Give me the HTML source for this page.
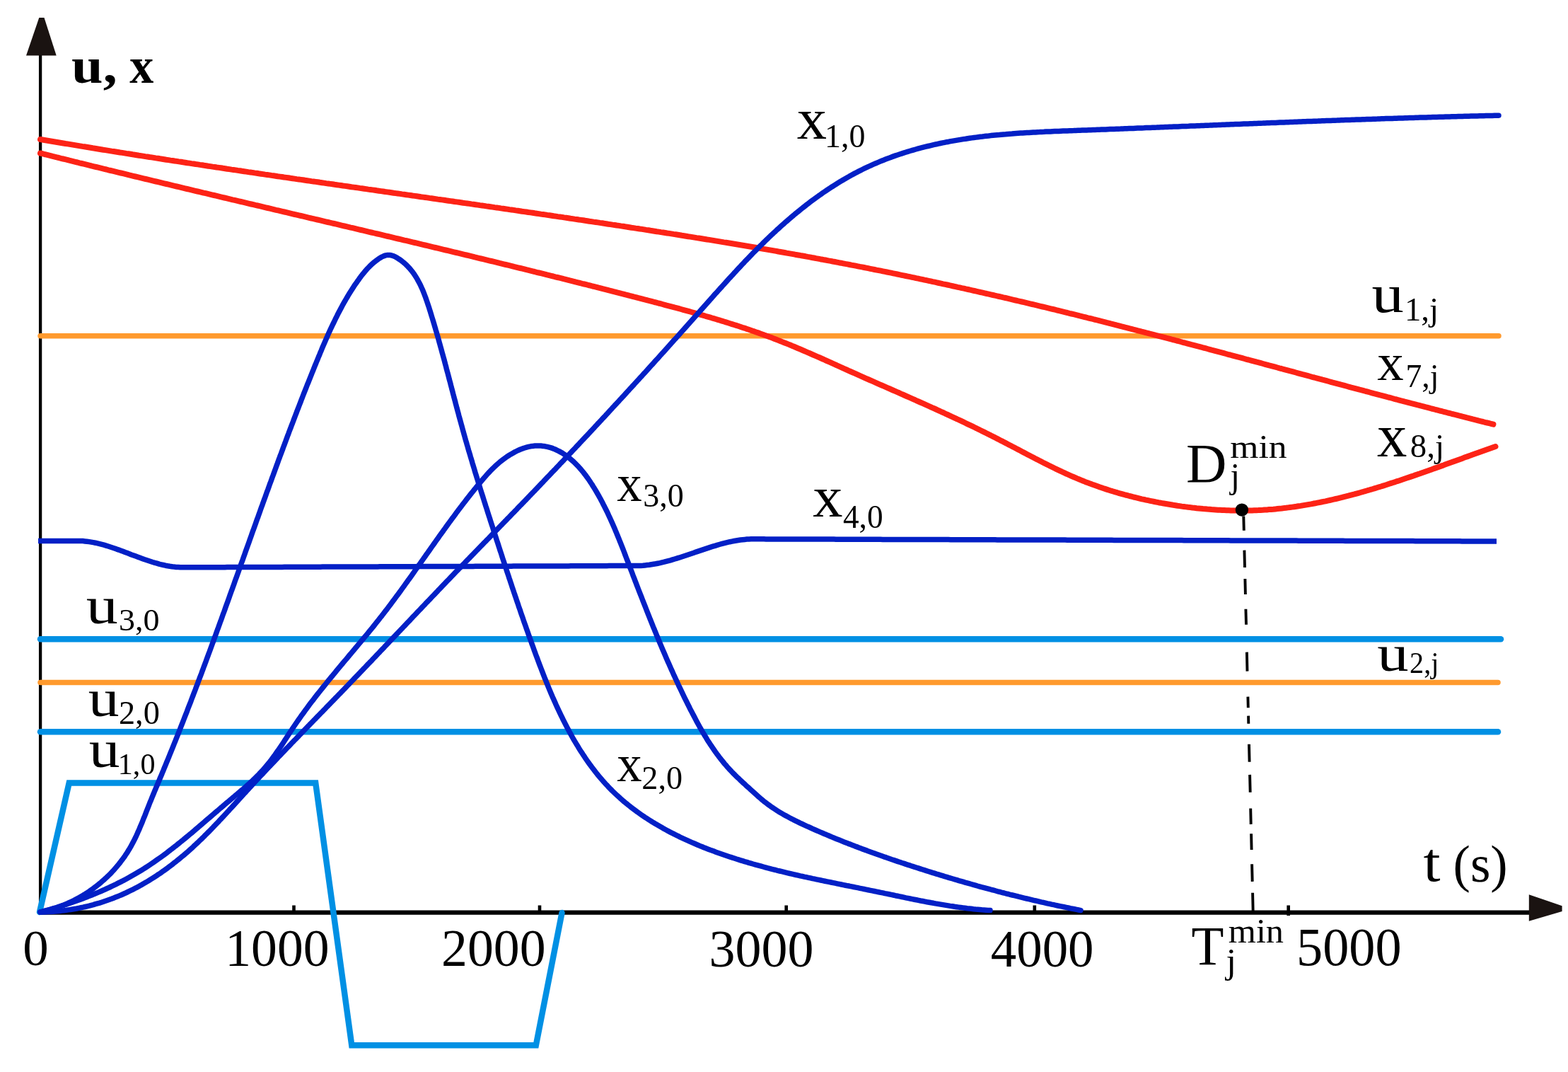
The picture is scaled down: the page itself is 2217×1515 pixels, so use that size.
<!DOCTYPE html>
<html><head><meta charset="utf-8"><title>u, x vs t</title>
<style>html,body{margin:0;padding:0;background:#fff;} body{width:2217px;height:1515px;overflow:hidden;} svg{display:block;}</style>
</head><body>
<svg xmlns="http://www.w3.org/2000/svg" width="2217" height="1515" viewBox="0 0 2217 1515" font-family="'Liberation Serif', serif" fill="#000">
<line x1="57.1" y1="70" x2="57.1" y2="1292" stroke="#000" stroke-width="4.3"/>
<polygon points="55.3,25 62.5,25 79.7,78.5 37,78.5" fill="#1a1311"/>
<line x1="54.9" y1="1289.6" x2="2170" y2="1289.6" stroke="#000" stroke-width="6.3"/>
<polygon points="2161.8,1264.2 2208.6,1280.2 2208.6,1288 2161.8,1301.8" fill="#1a1311"/>
<line x1="415.5" y1="1279.5" x2="415.5" y2="1290" stroke="#000" stroke-width="4.6"/>
<line x1="763" y1="1279.5" x2="763" y2="1290" stroke="#000" stroke-width="4.6"/>
<line x1="1111.7" y1="1279.5" x2="1111.7" y2="1290" stroke="#000" stroke-width="4.6"/>
<line x1="1462.8" y1="1279.5" x2="1462.8" y2="1290" stroke="#000" stroke-width="4.6"/>
<line x1="1821.7" y1="1279.5" x2="1821.7" y2="1294" stroke="#000" stroke-width="4.6"/>
<path d="M57,474.8 L2119,474.8" fill="none" stroke="#ff9a2e" stroke-width="7.5" stroke-linecap="round" stroke-linejoin="round" />
<path d="M57,964.4 L2118,964.4" fill="none" stroke="#ff9a2e" stroke-width="7.5" stroke-linecap="round" stroke-linejoin="round" />
<path d="M57,903.3 L2122,903.3" fill="none" stroke="#0090e4" stroke-width="8.5" stroke-linecap="round" stroke-linejoin="round" />
<path d="M57,1034.2 L2118,1034.2" fill="none" stroke="#0090e4" stroke-width="8.5" stroke-linecap="round" stroke-linejoin="round" />
<path d="M56,1289 L97.7,1106.5 L446.2,1106.5 L497.3,1477.3 L757.8,1477.3 L794.5,1290" fill="none" stroke="#0090e4" stroke-width="8.5" stroke-linejoin="miter" stroke-linecap="round"/>
<path d="M57.0,197.0L60.0,197.5 62.9,198.0 65.9,198.5 68.9,199.0 71.8,199.5 74.8,200.0 77.8,200.5 80.7,201.0 83.7,201.5 86.6,202.0 89.6,202.5 92.6,203.0 95.5,203.4 98.5,203.9 101.5,204.4 104.4,204.9 107.4,205.4 110.4,205.9 113.3,206.4 116.3,206.9 119.3,207.3 122.2,207.8 125.2,208.3 128.2,208.8 131.1,209.3 134.1,209.7 137.1,210.2 140.0,210.7 143.0,211.2 146.0,211.7 148.9,212.1 151.9,212.6 154.9,213.1 157.9,213.6 160.8,214.0 163.8,214.5 166.8,215.0 169.7,215.5 172.7,215.9 175.7,216.4 178.6,216.9 181.6,217.3 184.6,217.8 187.5,218.3 190.5,218.7 193.5,219.2 196.5,219.7 199.4,220.1 202.4,220.6 205.4,221.1 208.3,221.5 211.3,222.0 214.3,222.4 217.3,222.9 220.2,223.4 223.2,223.8 226.2,224.3 229.1,224.7 232.1,225.2 235.1,225.7 238.1,226.1 241.0,226.6 244.0,227.0 247.0,227.5 249.9,227.9 252.9,228.4 255.9,228.8 258.9,229.3 261.8,229.7 264.8,230.2 267.8,230.6 270.8,231.1 273.7,231.5 276.7,232.0 279.7,232.4 282.6,232.9 285.6,233.3 288.6,233.8 291.6,234.2 294.5,234.7 297.5,235.1 300.5,235.6 303.5,236.0 306.4,236.5 309.4,236.9 312.4,237.3 315.4,237.8 318.3,238.2 321.3,238.7 324.3,239.1 327.3,239.6 330.2,240.0 333.2,240.4 336.2,240.9 339.2,241.3 342.1,241.8 345.1,242.2 348.1,242.6 351.1,243.1 354.0,243.5 357.0,243.9 360.0,244.4 363.0,244.8 365.9,245.3 368.9,245.7 371.9,246.1 374.9,246.6 377.8,247.0 380.8,247.4 383.8,247.9 386.8,248.3 389.7,248.7 392.7,249.2 395.7,249.6 398.7,250.0 401.6,250.5 404.6,250.9 407.6,251.3 410.6,251.8 413.6,252.2 416.5,252.6 419.5,253.1 422.5,253.5 425.5,253.9 428.4,254.3 431.4,254.8 434.4,255.2 437.4,255.6 440.3,256.1 443.3,256.5 446.3,256.9 449.3,257.3 452.3,257.8 455.2,258.2 458.2,258.6 461.2,259.1 464.2,259.5 467.1,259.9 470.1,260.3 473.1,260.8 476.1,261.2 479.0,261.6 482.0,262.0 485.0,262.5 488.0,262.9 491.0,263.3 493.9,263.7 496.9,264.2 499.9,264.6 502.9,265.0 505.8,265.4 508.8,265.9 511.8,266.3 514.8,266.7 517.8,267.1 520.7,267.6 523.7,268.0 526.7,268.4 529.7,268.8 532.7,269.3 535.6,269.7 538.6,270.1 541.6,270.5 544.6,271.0 547.5,271.4 550.5,271.8 553.5,272.2 556.5,272.7 559.5,273.1 562.4,273.5 565.4,273.9 568.4,274.4 571.4,274.8 574.3,275.2 577.3,275.6 580.3,276.0 583.3,276.5 586.3,276.9 589.2,277.3 592.2,277.7 595.2,278.2 598.2,278.6 601.1,279.0 604.1,279.4 607.1,279.9 610.1,280.3 613.1,280.7 616.0,281.1 619.0,281.6 622.0,282.0 625.0,282.4 627.9,282.8 630.9,283.3 633.9,283.7 636.9,284.1 639.9,284.5 642.8,285.0 645.8,285.4 648.8,285.8 651.8,286.2 654.8,286.7 657.7,287.1 660.7,287.5 663.7,287.9 666.7,288.4 669.6,288.8 672.6,289.2 675.6,289.6 678.6,290.1 681.6,290.5 684.5,290.9 687.5,291.4 690.5,291.8 693.5,292.2 696.4,292.6 699.4,293.1 702.4,293.5 705.4,293.9 708.3,294.4 711.3,294.8 714.3,295.2 717.3,295.6 720.3,296.1 723.2,296.5 726.2,296.9 729.2,297.4 732.2,297.8 735.1,298.2 738.1,298.7 741.1,299.1 744.1,299.5 747.0,300.0 750.0,300.4 753.0,300.8 756.0,301.3 759.0,301.7 761.9,302.1 764.9,302.6 767.9,303.0 770.9,303.4 773.8,303.9 776.8,304.3 779.8,304.7 782.8,305.2 785.7,305.6 788.7,306.1 791.7,306.5 794.7,306.9 797.6,307.4 800.6,307.8 803.6,308.2 806.6,308.7 809.5,309.1 812.5,309.6 815.5,310.0 818.5,310.5 821.4,310.9 824.4,311.3 827.4,311.8 830.4,312.2 833.3,312.7 836.3,313.1 839.3,313.6 842.3,314.0 845.2,314.4 848.2,314.9 851.2,315.3 854.2,315.8 857.1,316.2 860.1,316.7 863.1,317.1 866.1,317.6 869.0,318.0 872.0,318.5 875.0,318.9 878.0,319.4 880.9,319.8 883.9,320.3 886.9,320.7 889.8,321.2 892.8,321.7 895.8,322.1 898.8,322.6 901.7,323.0 904.7,323.5 907.7,323.9 910.7,324.4 913.6,324.9 916.6,325.3 919.6,325.8 922.5,326.2 925.5,326.7 928.5,327.2 931.5,327.6 934.4,328.1 937.4,328.5 940.4,329.0 943.3,329.5 946.3,329.9 949.3,330.4 952.3,330.9 955.2,331.3 958.2,331.8 961.2,332.3 964.1,332.8 967.1,333.2 970.1,333.7 973.0,334.2 976.0,334.6 979.0,335.1 982.0,335.6 984.9,336.1 987.9,336.5 990.9,337.0 993.8,337.5 996.8,338.0 999.8,338.5 1002.7,338.9 1005.7,339.4 1008.7,339.9 1011.6,340.4 1014.6,340.9 1017.6,341.4 1020.5,341.9 1023.5,342.4 1026.5,342.8 1029.4,343.3 1032.4,343.8 1035.4,344.3 1038.3,344.8 1041.3,345.3 1044.3,345.8 1047.2,346.3 1050.2,346.8 1053.2,347.3 1056.1,347.8 1059.1,348.3 1062.1,348.8 1065.0,349.3 1068.0,349.8 1070.9,350.3 1073.9,350.8 1076.9,351.3 1079.8,351.9 1082.8,352.4 1085.8,352.9 1088.7,353.4 1091.7,353.9 1094.6,354.4 1097.6,354.9 1100.6,355.5 1103.5,356.0 1106.5,356.5 1109.4,357.0 1112.4,357.6 1115.4,358.1 1118.3,358.6 1121.3,359.1 1124.2,359.7 1127.2,360.2 1130.2,360.7 1133.1,361.3 1136.1,361.8 1139.0,362.3 1142.0,362.9 1144.9,363.4 1147.9,364.0 1150.9,364.5 1153.8,365.1 1156.8,365.6 1159.7,366.2 1162.7,366.7 1165.6,367.3 1168.6,367.8 1171.5,368.4 1174.5,368.9 1177.4,369.5 1180.4,370.0 1183.3,370.6 1186.3,371.2 1189.3,371.7 1192.2,372.3 1195.2,372.9 1198.1,373.4 1201.1,374.0 1204.0,374.6 1207.0,375.1 1209.9,375.7 1212.9,376.3 1215.8,376.9 1218.8,377.4 1221.7,378.0 1224.7,378.6 1227.6,379.2 1230.5,379.8 1233.5,380.4 1236.4,381.0 1239.4,381.6 1242.3,382.1 1245.3,382.7 1248.2,383.3 1251.2,383.9 1254.1,384.5 1257.1,385.1 1260.0,385.7 1262.9,386.3 1265.9,386.9 1268.8,387.5 1271.8,388.2 1274.7,388.8 1277.7,389.4 1280.6,390.0 1283.5,390.6 1286.5,391.2 1289.4,391.8 1292.4,392.4 1295.3,393.1 1298.3,393.7 1301.2,394.3 1304.1,394.9 1307.1,395.6 1310.0,396.2 1313.0,396.8 1315.9,397.4 1318.8,398.1 1321.8,398.7 1324.7,399.3 1327.6,400.0 1330.6,400.6 1333.5,401.3 1336.5,401.9 1339.4,402.5 1342.3,403.2 1345.3,403.8 1348.2,404.5 1351.1,405.1 1354.1,405.8 1357.0,406.4 1359.9,407.1 1362.9,407.7 1365.8,408.4 1368.7,409.0 1371.7,409.7 1374.6,410.3 1377.5,411.0 1380.5,411.7 1383.4,412.3 1386.3,413.0 1389.3,413.6 1392.2,414.3 1395.1,415.0 1398.1,415.6 1401.0,416.3 1403.9,417.0 1406.8,417.7 1409.8,418.3 1412.7,419.0 1415.6,419.7 1418.6,420.4 1421.5,421.0 1424.4,421.7 1427.3,422.4 1430.3,423.1 1433.2,423.8 1436.1,424.5 1439.0,425.2 1442.0,425.8 1444.9,426.5 1447.8,427.2 1450.7,427.9 1453.7,428.6 1456.6,429.3 1459.5,430.0 1462.4,430.7 1465.4,431.4 1468.3,432.1 1471.2,432.8 1474.1,433.5 1477.1,434.2 1480.0,434.9 1482.9,435.6 1485.8,436.3 1488.8,437.0 1491.7,437.7 1494.6,438.5 1497.5,439.2 1500.4,439.9 1503.4,440.6 1506.3,441.3 1509.2,442.0 1512.1,442.8 1515.0,443.5 1518.0,444.2 1520.9,444.9 1523.8,445.6 1526.7,446.4 1529.6,447.1 1532.5,447.8 1535.5,448.5 1538.4,449.3 1541.3,450.0 1544.2,450.7 1547.1,451.5 1550.0,452.2 1553.0,452.9 1555.9,453.7 1558.8,454.4 1561.7,455.1 1564.6,455.9 1567.5,456.6 1570.5,457.4 1573.4,458.1 1576.3,458.8 1579.2,459.6 1582.1,460.3 1585.0,461.1 1587.9,461.8 1590.9,462.6 1593.8,463.3 1596.7,464.1 1599.6,464.8 1602.5,465.6 1605.4,466.3 1608.3,467.1 1611.2,467.8 1614.2,468.6 1617.1,469.3 1620.0,470.1 1622.9,470.8 1625.8,471.6 1628.7,472.3 1631.6,473.1 1634.5,473.9 1637.4,474.6 1640.4,475.4 1643.3,476.1 1646.2,476.9 1649.1,477.7 1652.0,478.4 1654.9,479.2 1657.8,480.0 1660.7,480.7 1663.6,481.5 1666.5,482.2 1669.5,483.0 1672.4,483.8 1675.3,484.5 1678.2,485.3 1681.1,486.1 1684.0,486.9 1686.9,487.6 1689.8,488.4 1692.7,489.2 1695.6,489.9 1698.5,490.7 1701.4,491.5 1704.3,492.2 1707.3,493.0 1710.2,493.8 1713.1,494.6 1716.0,495.3 1718.9,496.1 1721.8,496.9 1724.7,497.7 1727.6,498.4 1730.5,499.2 1733.4,500.0 1736.3,500.8 1739.2,501.5 1742.1,502.3 1745.0,503.1 1747.9,503.9 1750.9,504.7 1753.8,505.4 1756.7,506.2 1759.6,507.0 1762.5,507.8 1765.4,508.5 1768.3,509.3 1771.2,510.1 1774.1,510.9 1777.0,511.7 1779.9,512.4 1782.8,513.2 1785.7,514.0 1788.6,514.8 1791.5,515.6 1794.4,516.4 1797.3,517.1 1800.2,517.9 1803.2,518.7 1806.1,519.5 1809.0,520.3 1811.9,521.0 1814.8,521.8 1817.7,522.6 1820.6,523.4 1823.5,524.2 1826.4,524.9 1829.3,525.7 1832.2,526.5 1835.1,527.3 1838.0,528.1 1840.9,528.9 1843.8,529.6 1846.7,530.4 1849.6,531.2 1852.5,532.0 1855.4,532.8 1858.3,533.5 1861.3,534.3 1864.2,535.1 1867.1,535.9 1870.0,536.7 1872.9,537.4 1875.8,538.2 1878.7,539.0 1881.6,539.8 1884.5,540.6 1887.4,541.3 1890.3,542.1 1893.2,542.9 1896.1,543.7 1899.0,544.4 1901.9,545.2 1904.8,546.0 1907.7,546.8 1910.6,547.6 1913.5,548.3 1916.5,549.1 1919.4,549.9 1922.3,550.7 1925.2,551.4 1928.1,552.2 1931.0,553.0 1933.9,553.7 1936.8,554.5 1939.7,555.3 1942.6,556.1 1945.5,556.8 1948.4,557.6 1951.3,558.4 1954.2,559.1 1957.1,559.9 1960.0,560.7 1963.0,561.5 1965.9,562.2 1968.8,563.0 1971.7,563.8 1974.6,564.5 1977.5,565.3 1980.4,566.1 1983.3,566.8 1986.2,567.6 1989.1,568.3 1992.0,569.1 1994.9,569.9 1997.8,570.6 2000.8,571.4 2003.7,572.2 2006.6,572.9 2009.5,573.7 2012.4,574.4 2015.3,575.2 2018.2,575.9 2021.1,576.7 2024.0,577.5 2026.9,578.2 2029.9,579.0 2032.8,579.7 2035.7,580.5 2038.6,581.2 2041.5,582.0 2044.4,582.7 2047.3,583.5 2050.2,584.2 2053.1,585.0 2056.0,585.7 2059.0,586.4 2061.9,587.2 2064.8,587.9 2067.7,588.7 2070.6,589.4 2073.5,590.2 2076.4,590.9 2079.3,591.6 2082.3,592.4 2085.2,593.1 2088.1,593.8 2091.0,594.6 2093.9,595.3 2096.8,596.0 2099.7,596.8 2102.7,597.5 2105.6,598.2 2108.5,599.0 2111.4,599.7" fill="none" stroke="#fd2316" stroke-width="8" stroke-linecap="round" stroke-linejoin="round" />
<path d="M57.0,216.5L59.9,217.2 62.8,218.0 65.8,218.7 68.7,219.4 71.6,220.1 74.5,220.9 77.4,221.6 80.4,222.3 83.3,223.0 86.2,223.8 89.1,224.5 92.0,225.2 95.0,225.9 97.9,226.7 100.8,227.4 103.7,228.1 106.6,228.8 109.6,229.5 112.5,230.3 115.4,231.0 118.3,231.7 121.2,232.4 124.2,233.1 127.1,233.8 130.0,234.6 132.9,235.3 135.9,236.0 138.8,236.7 141.7,237.4 144.6,238.1 147.5,238.8 150.5,239.5 153.4,240.3 156.3,241.0 159.2,241.7 162.2,242.4 165.1,243.1 168.0,243.8 170.9,244.5 173.9,245.2 176.8,245.9 179.7,246.6 182.6,247.4 185.6,248.1 188.5,248.8 191.4,249.5 194.3,250.2 197.2,250.9 200.2,251.6 203.1,252.3 206.0,253.0 208.9,253.7 211.9,254.4 214.8,255.1 217.7,255.8 220.6,256.5 223.6,257.2 226.5,257.9 229.4,258.6 232.3,259.3 235.3,260.0 238.2,260.7 241.1,261.4 244.0,262.1 247.0,262.8 249.9,263.5 252.8,264.2 255.7,264.9 258.7,265.6 261.6,266.3 264.5,267.0 267.4,267.7 270.4,268.4 273.3,269.1 276.2,269.8 279.2,270.5 282.1,271.2 285.0,271.9 287.9,272.6 290.9,273.2 293.8,273.9 296.7,274.6 299.6,275.3 302.6,276.0 305.5,276.7 308.4,277.4 311.3,278.1 314.3,278.8 317.2,279.5 320.1,280.2 323.0,280.9 326.0,281.6 328.9,282.3 331.8,282.9 334.8,283.6 337.7,284.3 340.6,285.0 343.5,285.7 346.5,286.4 349.4,287.1 352.3,287.8 355.2,288.5 358.2,289.2 361.1,289.9 364.0,290.5 367.0,291.2 369.9,291.9 372.8,292.6 375.7,293.3 378.7,294.0 381.6,294.7 384.5,295.4 387.4,296.1 390.4,296.8 393.3,297.4 396.2,298.1 399.2,298.8 402.1,299.5 405.0,300.2 407.9,300.9 410.9,301.6 413.8,302.3 416.7,303.0 419.6,303.6 422.6,304.3 425.5,305.0 428.4,305.7 431.4,306.4 434.3,307.1 437.2,307.8 440.1,308.5 443.1,309.1 446.0,309.8 448.9,310.5 451.8,311.2 454.8,311.9 457.7,312.6 460.6,313.3 463.6,314.0 466.5,314.7 469.4,315.3 472.3,316.0 475.3,316.7 478.2,317.4 481.1,318.1 484.0,318.8 487.0,319.5 489.9,320.2 492.8,320.9 495.8,321.6 498.7,322.2 501.6,322.9 504.5,323.6 507.5,324.3 510.4,325.0 513.3,325.7 516.2,326.4 519.2,327.1 522.1,327.8 525.0,328.5 527.9,329.2 530.9,329.8 533.8,330.5 536.7,331.2 539.7,331.9 542.6,332.6 545.5,333.3 548.4,334.0 551.4,334.7 554.3,335.4 557.2,336.1 560.1,336.8 563.1,337.5 566.0,338.2 568.9,338.9 571.8,339.6 574.8,340.2 577.7,340.9 580.6,341.6 583.5,342.3 586.5,343.0 589.4,343.7 592.3,344.4 595.2,345.1 598.2,345.8 601.1,346.5 604.0,347.2 606.9,347.9 609.9,348.6 612.8,349.3 615.7,350.0 618.6,350.7 621.6,351.4 624.5,352.1 627.4,352.8 630.3,353.5 633.3,354.2 636.2,354.9 639.1,355.6 642.0,356.3 645.0,357.0 647.9,357.7 650.8,358.4 653.7,359.1 656.7,359.8 659.6,360.5 662.5,361.2 665.4,361.9 668.4,362.6 671.3,363.4 674.2,364.1 677.1,364.8 680.1,365.5 683.0,366.2 685.9,366.9 688.8,367.6 691.7,368.3 694.7,369.0 697.6,369.7 700.5,370.4 703.4,371.1 706.4,371.9 709.3,372.6 712.2,373.3 715.1,374.0 718.0,374.7 721.0,375.4 723.9,376.1 726.8,376.9 729.7,377.6 732.7,378.3 735.6,379.0 738.5,379.7 741.4,380.4 744.3,381.2 747.3,381.9 750.2,382.6 753.1,383.3 756.0,384.0 758.9,384.8 761.9,385.5 764.8,386.2 767.7,386.9 770.6,387.6 773.5,388.4 776.5,389.1 779.4,389.8 782.3,390.5 785.2,391.3 788.1,392.0 791.1,392.7 794.0,393.4 796.9,394.2 799.8,394.9 802.7,395.6 805.7,396.4 808.6,397.1 811.5,397.8 814.4,398.6 817.3,399.3 820.2,400.0 823.2,400.8 826.1,401.5 829.0,402.2 831.9,403.0 834.8,403.7 837.7,404.5 840.7,405.2 843.6,405.9 846.5,406.7 849.4,407.4 852.3,408.2 855.2,408.9 858.2,409.6 861.1,410.4 864.0,411.1 866.9,411.9 869.8,412.6 872.7,413.4 875.6,414.1 878.6,414.9 881.5,415.6 884.4,416.4 887.3,417.1 890.2,417.9 893.1,418.6 896.0,419.4 899.0,420.1 901.9,420.9 904.8,421.6 907.7,422.4 910.6,423.2 913.5,423.9 916.4,424.7 919.3,425.4 922.3,426.2 925.2,427.0 928.1,427.7 931.0,428.5 933.9,429.2 936.8,430.0 939.7,430.8 942.6,431.6 945.5,432.3 948.5,433.1 951.4,433.9 954.3,434.7 957.2,435.4 960.1,436.2 963.0,437.0 965.9,437.8 968.8,438.6 971.7,439.4 974.6,440.2 977.5,441.0 980.4,441.8 983.3,442.6 986.2,443.5 989.1,444.3 992.0,445.1 994.8,445.9 997.7,446.8 1000.6,447.6 1003.5,448.4 1006.4,449.3 1009.3,450.1 1012.2,451.0 1015.0,451.9 1017.9,452.7 1020.8,453.6 1023.7,454.5 1026.5,455.4 1029.4,456.3 1032.3,457.2 1035.1,458.1 1038.0,459.0 1040.9,459.9 1043.7,460.8 1046.6,461.7 1049.4,462.7 1052.3,463.6 1055.1,464.6 1058.0,465.5 1060.8,466.5 1063.6,467.5 1066.5,468.4 1069.3,469.4 1072.2,470.4 1075.0,471.4 1077.8,472.4 1080.6,473.5 1083.5,474.5 1086.3,475.5 1089.1,476.6 1091.9,477.6 1094.7,478.7 1097.5,479.8 1100.3,480.9 1103.1,482.0 1105.9,483.1 1108.7,484.2 1111.5,485.3 1114.3,486.4 1117.1,487.5 1119.8,488.7 1122.6,489.8 1125.4,491.0 1128.2,492.2 1130.9,493.3 1133.7,494.5 1136.5,495.7 1139.2,496.9 1142.0,498.1 1144.8,499.3 1147.5,500.5 1150.3,501.7 1153.0,502.9 1155.8,504.1 1158.6,505.3 1161.3,506.5 1164.1,507.7 1166.8,509.0 1169.6,510.2 1172.3,511.4 1175.1,512.7 1177.8,513.9 1180.6,515.1 1183.3,516.4 1186.1,517.6 1188.8,518.8 1191.6,520.1 1194.3,521.3 1197.0,522.5 1199.8,523.8 1202.5,525.0 1205.3,526.2 1208.0,527.4 1210.8,528.7 1213.5,529.9 1216.3,531.1 1219.0,532.3 1221.8,533.6 1224.5,534.8 1227.3,536.0 1230.1,537.2 1232.8,538.4 1235.6,539.6 1238.3,540.8 1241.1,542.1 1243.8,543.3 1246.6,544.5 1249.3,545.7 1252.1,546.9 1254.8,548.1 1257.6,549.3 1260.3,550.5 1263.1,551.7 1265.8,552.9 1268.6,554.1 1271.4,555.3 1274.1,556.6 1276.9,557.8 1279.6,559.0 1282.4,560.2 1285.1,561.4 1287.9,562.6 1290.6,563.8 1293.4,565.0 1296.1,566.3 1298.8,567.5 1301.6,568.7 1304.3,569.9 1307.1,571.2 1309.8,572.4 1312.6,573.6 1315.3,574.8 1318.0,576.1 1320.8,577.3 1323.5,578.5 1326.3,579.8 1329.0,581.0 1331.7,582.3 1334.5,583.5 1337.2,584.8 1339.9,586.0 1342.7,587.3 1345.4,588.6 1348.1,589.8 1350.8,591.1 1353.5,592.4 1356.3,593.6 1359.0,594.9 1361.7,596.2 1364.4,597.5 1367.1,598.8 1369.8,600.1 1372.6,601.4 1375.3,602.7 1378.0,604.0 1380.7,605.3 1383.4,606.7 1386.1,608.0 1388.8,609.3 1391.5,610.6 1394.2,612.0 1396.9,613.3 1399.5,614.7 1402.2,616.0 1404.9,617.4 1407.6,618.7 1410.3,620.1 1413.0,621.5 1415.6,622.9 1418.3,624.2 1421.0,625.6 1423.7,627.0 1426.3,628.4 1429.0,629.8 1431.7,631.2 1434.3,632.6 1437.0,634.0 1439.7,635.4 1442.4,636.8 1445.0,638.2 1447.7,639.6 1450.4,641.0 1453.0,642.4 1455.7,643.8 1458.4,645.2 1461.0,646.6 1463.7,648.0 1466.4,649.3 1469.1,650.7 1471.7,652.1 1474.4,653.5 1477.1,654.8 1479.8,656.2 1482.5,657.5 1485.2,658.8 1487.9,660.2 1490.6,661.5 1493.3,662.8 1496.0,664.1 1498.7,665.4 1501.4,666.7 1504.1,667.9 1506.8,669.2 1509.6,670.4 1512.3,671.6 1515.0,672.8 1517.8,674.0 1520.5,675.2 1523.3,676.4 1526.1,677.5 1528.8,678.6 1531.6,679.8 1534.4,680.9 1537.2,681.9 1540.0,683.0 1542.8,684.0 1545.6,685.1 1548.4,686.1 1551.2,687.1 1554.0,688.1 1556.9,689.0 1559.7,690.0 1562.5,690.9 1565.4,691.9 1568.2,692.8 1571.1,693.7 1573.9,694.5 1576.8,695.4 1579.7,696.2 1582.6,697.1 1585.4,697.9 1588.3,698.7 1591.2,699.5 1594.1,700.2 1597.0,701.0 1599.9,701.7 1602.8,702.5 1605.8,703.2 1608.7,703.9 1611.6,704.6 1614.5,705.3 1617.5,705.9 1620.4,706.6 1623.3,707.2 1626.3,707.8 1629.2,708.4 1632.2,709.0 1635.1,709.6 1638.1,710.2 1641.1,710.7 1644.0,711.3 1647.0,711.8 1650.0,712.3 1653.0,712.8 1655.9,713.3 1658.9,713.8 1661.9,714.2 1664.9,714.7 1667.9,715.1 1670.9,715.6 1673.9,716.0 1676.9,716.4 1679.9,716.8 1682.9,717.1 1685.9,717.5 1688.9,717.8 1691.9,718.2 1694.9,718.5 1697.9,718.8 1700.9,719.1 1704.0,719.3 1707.0,719.6 1710.0,719.8 1713.0,720.1 1716.0,720.3 1719.0,720.5 1722.1,720.7 1725.1,720.8 1728.1,721.0 1731.1,721.1 1734.1,721.2 1737.2,721.3 1740.2,721.4 1743.2,721.5 1746.2,721.6 1749.2,721.6 1752.2,721.6 1755.3,721.6 1758.3,721.6 1761.3,721.6 1764.3,721.5 1767.3,721.5 1770.3,721.4 1773.3,721.3 1776.3,721.2 1779.3,721.1 1782.3,720.9 1785.3,720.8 1788.3,720.6 1791.3,720.4 1794.3,720.1 1797.3,719.9 1800.3,719.7 1803.3,719.4 1806.2,719.1 1809.2,718.8 1812.2,718.5 1815.2,718.1 1818.1,717.8 1821.1,717.4 1824.1,717.0 1827.0,716.6 1830.0,716.2 1833.0,715.8 1835.9,715.3 1838.9,714.9 1841.8,714.4 1844.8,713.9 1847.7,713.4 1850.7,712.9 1853.6,712.4 1856.6,711.8 1859.5,711.3 1862.4,710.7 1865.4,710.1 1868.3,709.5 1871.2,708.9 1874.2,708.3 1877.1,707.6 1880.0,707.0 1882.9,706.3 1885.9,705.7 1888.8,705.0 1891.7,704.3 1894.6,703.6 1897.5,702.9 1900.4,702.1 1903.4,701.4 1906.3,700.7 1909.2,699.9 1912.1,699.1 1915.0,698.4 1917.9,697.6 1920.8,696.8 1923.7,696.0 1926.6,695.2 1929.5,694.3 1932.4,693.5 1935.2,692.7 1938.1,691.8 1941.0,691.0 1943.9,690.1 1946.8,689.2 1949.7,688.3 1952.6,687.5 1955.4,686.6 1958.3,685.7 1961.2,684.8 1964.1,683.8 1966.9,682.9 1969.8,682.0 1972.7,681.1 1975.5,680.1 1978.4,679.2 1981.3,678.2 1984.1,677.3 1987.0,676.3 1989.9,675.3 1992.7,674.4 1995.6,673.4 1998.4,672.4 2001.3,671.4 2004.1,670.4 2007.0,669.5 2009.8,668.5 2012.7,667.5 2015.5,666.5 2018.4,665.5 2021.2,664.5 2024.1,663.5 2026.9,662.4 2029.8,661.4 2032.6,660.4 2035.4,659.4 2038.3,658.4 2041.1,657.4 2043.9,656.3 2046.8,655.3 2049.6,654.3 2052.4,653.3 2055.3,652.2 2058.1,651.2 2060.9,650.2 2063.8,649.2 2066.6,648.2 2069.4,647.1 2072.2,646.1 2075.1,645.1 2077.9,644.1 2080.7,643.0 2083.5,642.0 2086.3,641.0 2089.2,640.0 2092.0,639.0 2094.8,638.0 2097.6,637.0 2100.4,636.0 2103.2,635.0 2106.1,634.0 2108.9,633.0 2111.7,632.0 2114.5,631.0" fill="none" stroke="#fd2316" stroke-width="8" stroke-linecap="round" stroke-linejoin="round" />
<path d="M54.0,764.4L57.0,764.4 60.0,764.4 63.0,764.4 66.0,764.4 69.0,764.4 72.0,764.4 75.0,764.4 78.0,764.4 81.0,764.4 84.0,764.4 87.0,764.4 90.0,764.4 93.0,764.4 96.0,764.4 99.0,764.4 102.0,764.4 105.0,764.4 108.0,764.4 111.0,764.4 114.0,764.5 117.0,764.6 120.0,764.9 123.0,765.2 126.0,765.6 129.0,766.1 132.0,766.6 135.0,767.2 138.0,767.9 141.0,768.6 144.0,769.4 147.0,770.2 150.0,771.1 153.0,772.0 156.0,773.0 159.0,774.0 162.0,775.0 165.0,776.1 168.0,777.1 171.0,778.2 174.0,779.3 177.0,780.5 180.0,781.6 183.0,782.7 186.0,783.9 189.0,785.0 192.0,786.1 195.0,787.2 198.0,788.3 201.0,789.4 204.0,790.5 207.0,791.5 210.0,792.5 213.0,793.5 216.0,794.5 219.0,795.4 222.0,796.2 225.0,797.1 228.0,797.8 231.0,798.5 234.0,799.2 237.0,799.8 240.0,800.3 243.0,800.7 246.0,801.1 249.0,801.4 252.0,801.6 255.0,801.8 258.0,801.8 261.0,801.8 264.0,801.8 267.0,801.8 270.0,801.8 273.0,801.8 276.0,801.8 279.0,801.8 282.0,801.8 285.0,801.8 288.0,801.8 291.0,801.8 294.0,801.7 297.0,801.7 300.0,801.7 303.0,801.7 306.0,801.7 309.0,801.7 312.0,801.7 315.0,801.7 318.0,801.7 321.0,801.6 324.0,801.6 327.0,801.6 330.0,801.6 333.0,801.6 336.0,801.6 339.0,801.6 342.0,801.6 345.0,801.6 348.0,801.5 351.0,801.5 354.0,801.5 357.0,801.5 360.0,801.5 363.0,801.5 366.0,801.5 369.0,801.5 372.0,801.5 375.0,801.4 378.0,801.4 381.0,801.4 384.0,801.4 387.0,801.4 390.0,801.4 393.0,801.4 396.0,801.4 399.0,801.4 402.0,801.3 405.0,801.3 408.0,801.3 411.0,801.3 414.0,801.3 417.0,801.3 420.0,801.3 423.0,801.3 426.0,801.3 429.0,801.2 432.0,801.2 435.0,801.2 438.0,801.2 441.0,801.2 444.0,801.2 447.0,801.2 450.0,801.2 453.0,801.2 456.0,801.1 459.0,801.1 462.0,801.1 465.0,801.1 468.0,801.1 471.0,801.1 474.0,801.1 477.0,801.1 480.0,801.1 483.0,801.0 486.0,801.0 489.0,801.0 492.0,801.0 495.0,801.0 498.0,801.0 501.0,801.0 504.0,801.0 507.0,801.0 510.0,800.9 513.0,800.9 516.0,800.9 519.0,800.9 522.0,800.9 525.0,800.9 528.0,800.9 531.0,800.9 534.0,800.9 537.0,800.8 540.0,800.8 543.0,800.8 546.0,800.8 549.0,800.8 552.0,800.8 555.0,800.8 558.0,800.8 561.0,800.8 564.0,800.7 567.0,800.7 570.0,800.7 573.0,800.7 576.0,800.7 579.0,800.7 582.0,800.7 585.0,800.7 588.0,800.7 591.0,800.6 594.0,800.6 597.0,800.6 600.0,800.6 603.0,800.6 606.0,800.6 609.0,800.6 612.0,800.6 615.0,800.6 618.0,800.5 621.0,800.5 624.0,800.5 627.0,800.5 630.0,800.5 633.0,800.5 636.0,800.5 639.0,800.5 642.0,800.5 645.0,800.4 648.0,800.4 651.0,800.4 654.0,800.4 657.0,800.4 660.0,800.4 663.0,800.4 666.0,800.4 669.0,800.4 672.0,800.3 675.0,800.3 678.0,800.3 681.0,800.3 684.0,800.3 687.0,800.3 690.0,800.3 693.0,800.3 696.0,800.3 699.0,800.2 702.0,800.2 705.0,800.2 708.0,800.2 711.0,800.2 714.0,800.2 717.0,800.2 720.0,800.2 723.0,800.2 726.0,800.1 729.0,800.1 732.0,800.1 735.0,800.1 738.0,800.1 741.0,800.1 744.0,800.1 747.0,800.1 750.0,800.1 753.0,800.0 756.0,800.0 759.0,800.0 762.0,800.0 765.0,800.0 768.0,800.0 771.0,800.0 774.0,800.0 777.0,800.0 780.0,799.9 783.0,799.9 786.0,799.9 789.0,799.9 792.0,799.9 795.0,799.9 798.0,799.9 801.0,799.9 804.0,799.9 807.0,799.8 810.0,799.8 813.0,799.8 816.0,799.8 819.0,799.8 822.0,799.8 825.0,799.8 828.0,799.8 831.0,799.8 834.0,799.7 837.0,799.7 840.0,799.7 843.0,799.7 846.0,799.7 849.0,799.7 852.0,799.7 855.0,799.7 858.0,799.7 861.0,799.6 864.0,799.6 867.0,799.6 870.0,799.6 873.0,799.6 876.0,799.6 879.0,799.6 882.0,799.6 885.0,799.6 888.0,799.5 891.0,799.5 894.0,799.5 897.0,799.5 900.0,799.5 903.0,799.5 906.0,799.4 909.0,799.2 912.0,798.9 915.0,798.6 918.0,798.3 921.0,797.8 924.0,797.3 927.0,796.8 930.0,796.2 933.0,795.6 936.0,794.9 939.0,794.2 942.0,793.4 945.0,792.6 948.0,791.8 951.0,790.9 954.0,790.0 957.0,789.1 960.0,788.2 963.0,787.2 966.0,786.2 969.0,785.2 972.0,784.2 975.0,783.2 978.0,782.2 981.0,781.2 984.0,780.1 987.0,779.1 990.0,778.1 993.0,777.1 996.0,776.1 999.0,775.1 1002.0,774.1 1005.0,773.1 1008.0,772.2 1011.0,771.3 1014.0,770.4 1017.0,769.5 1020.0,768.7 1023.0,767.9 1026.0,767.1 1029.0,766.4 1032.0,765.7 1035.0,765.1 1038.0,764.5 1041.0,764.0 1044.0,763.5 1047.0,763.0 1050.0,762.7 1053.0,762.4 1056.0,762.1 1059.0,761.9 1062.0,761.8 1065.0,761.8 1068.0,761.8 1071.0,761.8 1074.0,761.8 1077.0,761.8 1080.0,761.8 1083.0,761.9 1086.0,761.9 1089.0,761.9 1092.0,761.9 1095.0,761.9 1098.0,761.9 1101.0,761.9 1104.0,761.9 1107.0,761.9 1110.0,761.9 1113.0,761.9 1116.0,762.0 1119.0,762.0 1122.0,762.0 1125.0,762.0 1128.0,762.0 1131.0,762.0 1134.0,762.0 1137.0,762.0 1140.0,762.0 1143.0,762.0 1146.0,762.0 1149.0,762.1 1152.0,762.1 1155.0,762.1 1158.0,762.1 1161.0,762.1 1164.0,762.1 1167.0,762.1 1170.0,762.1 1173.0,762.1 1176.0,762.1 1179.0,762.1 1182.0,762.2 1185.0,762.2 1188.0,762.2 1191.0,762.2 1194.0,762.2 1197.0,762.2 1200.0,762.2 1203.0,762.2 1206.0,762.2 1209.0,762.2 1212.0,762.2 1215.0,762.3 1218.0,762.3 1221.0,762.3 1224.0,762.3 1227.0,762.3 1230.0,762.3 1233.0,762.3 1236.0,762.3 1239.0,762.3 1242.0,762.3 1245.0,762.3 1248.0,762.4 1251.0,762.4 1254.0,762.4 1257.0,762.4 1260.0,762.4 1263.0,762.4 1266.0,762.4 1269.0,762.4 1272.0,762.4 1275.0,762.4 1278.0,762.4 1281.0,762.5 1284.0,762.5 1287.0,762.5 1290.0,762.5 1293.0,762.5 1296.0,762.5 1299.0,762.5 1302.0,762.5 1305.0,762.5 1308.0,762.5 1311.0,762.6 1314.0,762.6 1317.0,762.6 1320.0,762.6 1323.0,762.6 1326.0,762.6 1329.0,762.6 1332.0,762.6 1335.0,762.6 1338.0,762.6 1341.0,762.6 1344.0,762.7 1347.0,762.7 1350.0,762.7 1353.0,762.7 1356.0,762.7 1359.0,762.7 1362.0,762.7 1365.0,762.7 1368.0,762.7 1371.0,762.7 1374.0,762.7 1377.0,762.8 1380.0,762.8 1383.0,762.8 1386.0,762.8 1389.0,762.8 1392.0,762.8 1395.0,762.8 1398.0,762.8 1401.0,762.8 1404.0,762.8 1407.0,762.8 1410.0,762.9 1413.0,762.9 1416.0,762.9 1419.0,762.9 1422.0,762.9 1425.0,762.9 1428.0,762.9 1431.0,762.9 1434.0,762.9 1437.0,762.9 1440.0,762.9 1443.0,763.0 1446.0,763.0 1449.0,763.0 1452.0,763.0 1455.0,763.0 1458.0,763.0 1461.0,763.0 1464.0,763.0 1467.0,763.0 1470.0,763.0 1473.0,763.0 1476.0,763.1 1479.0,763.1 1482.0,763.1 1485.0,763.1 1488.0,763.1 1491.0,763.1 1494.0,763.1 1497.0,763.1 1500.0,763.1 1503.0,763.1 1506.0,763.1 1509.0,763.2 1512.0,763.2 1515.0,763.2 1518.0,763.2 1521.0,763.2 1524.0,763.2 1527.0,763.2 1530.0,763.2 1533.0,763.2 1536.0,763.2 1539.0,763.2 1542.0,763.3 1545.0,763.3 1548.0,763.3 1551.0,763.3 1554.0,763.3 1557.0,763.3 1560.0,763.3 1563.0,763.3 1566.0,763.3 1569.0,763.3 1572.0,763.3 1575.0,763.4 1578.0,763.4 1581.0,763.4 1584.0,763.4 1587.0,763.4 1590.0,763.4 1593.0,763.4 1596.0,763.4 1599.0,763.4 1602.0,763.4 1605.0,763.4 1608.0,763.5 1611.0,763.5 1614.0,763.5 1617.0,763.5 1620.0,763.5 1623.0,763.5 1626.0,763.5 1629.0,763.5 1632.0,763.5 1635.0,763.5 1638.0,763.5 1641.0,763.6 1644.0,763.6 1647.0,763.6 1650.0,763.6 1653.0,763.6 1656.0,763.6 1659.0,763.6 1662.0,763.6 1665.0,763.6 1668.0,763.6 1671.0,763.6 1674.0,763.7 1677.0,763.7 1680.0,763.7 1683.0,763.7 1686.0,763.7 1689.0,763.7 1692.0,763.7 1695.0,763.7 1698.0,763.7 1701.0,763.7 1704.0,763.7 1707.0,763.8 1710.0,763.8 1713.0,763.8 1716.0,763.8 1719.0,763.8 1722.0,763.8 1725.0,763.8 1728.0,763.8 1731.0,763.8 1734.0,763.8 1737.0,763.8 1740.0,763.9 1743.0,763.9 1746.0,763.9 1749.0,763.9 1752.0,763.9 1755.0,763.9 1758.0,763.9 1761.0,763.9 1764.0,763.9 1767.0,763.9 1770.0,764.0 1773.0,764.0 1776.0,764.0 1779.0,764.0 1782.0,764.0 1785.0,764.0 1788.0,764.0 1791.0,764.0 1794.0,764.0 1797.0,764.0 1800.0,764.0 1803.0,764.1 1806.0,764.1 1809.0,764.1 1812.0,764.1 1815.0,764.1 1818.0,764.1 1821.0,764.1 1824.0,764.1 1827.0,764.1 1830.0,764.1 1833.0,764.1 1836.0,764.2 1839.0,764.2 1842.0,764.2 1845.0,764.2 1848.0,764.2 1851.0,764.2 1854.0,764.2 1857.0,764.2 1860.0,764.2 1863.0,764.2 1866.0,764.2 1869.0,764.3 1872.0,764.3 1875.0,764.3 1878.0,764.3 1881.0,764.3 1884.0,764.3 1887.0,764.3 1890.0,764.3 1893.0,764.3 1896.0,764.3 1899.0,764.3 1902.0,764.4 1905.0,764.4 1908.0,764.4 1911.0,764.4 1914.0,764.4 1917.0,764.4 1920.0,764.4 1923.0,764.4 1926.0,764.4 1929.0,764.4 1932.0,764.4 1935.0,764.5 1938.0,764.5 1941.0,764.5 1944.0,764.5 1947.0,764.5 1950.0,764.5 1953.0,764.5 1956.0,764.5 1959.0,764.5 1962.0,764.5 1965.0,764.5 1968.0,764.6 1971.0,764.6 1974.0,764.6 1977.0,764.6 1980.0,764.6 1983.0,764.6 1986.0,764.6 1989.0,764.6 1992.0,764.6 1995.0,764.6 1998.0,764.6 2001.0,764.7 2004.0,764.7 2007.0,764.7 2010.0,764.7 2013.0,764.7 2016.0,764.7 2019.0,764.7 2022.0,764.7 2025.0,764.7 2028.0,764.7 2031.0,764.7 2034.0,764.8 2037.0,764.8 2040.0,764.8 2043.0,764.8 2046.0,764.8 2049.0,764.8 2052.0,764.8 2055.0,764.8 2058.0,764.8 2061.0,764.8 2064.0,764.8 2067.0,764.9 2070.0,764.9 2073.0,764.9 2076.0,764.9 2079.0,764.9 2082.0,764.9 2085.0,764.9 2088.0,764.9 2091.0,764.9 2094.0,764.9 2097.0,764.9 2100.0,765.0 2103.0,765.0 2106.0,765.0 2109.0,765.0 2112.0,765.0 2116.0,765.0" fill="none" stroke="#0320c6" stroke-width="7.5" stroke-linecap="butt" stroke-linejoin="round" />
<path d="M57.0,1289.0L60.1,1288.9 63.1,1288.9 66.2,1288.8 69.3,1288.6 72.3,1288.4 75.4,1288.2 78.4,1288.0 81.5,1287.7 84.5,1287.4 87.5,1287.1 90.6,1286.8 93.6,1286.4 96.6,1285.9 99.6,1285.5 102.6,1285.0 105.6,1284.5 108.5,1284.0 111.5,1283.4 114.5,1282.8 117.4,1282.2 120.4,1281.5 123.3,1280.8 126.2,1280.1 129.1,1279.3 132.0,1278.6 134.9,1277.7 137.8,1276.9 140.7,1276.1 143.5,1275.2 146.4,1274.2 149.2,1273.3 152.1,1272.3 154.9,1271.3 157.7,1270.3 160.5,1269.2 163.3,1268.1 166.1,1267.0 168.8,1265.9 171.6,1264.7 174.3,1263.5 177.0,1262.3 179.7,1261.0 182.4,1259.7 185.1,1258.4 187.8,1257.1 190.4,1255.7 193.1,1254.4 195.7,1253.0 198.3,1251.5 200.9,1250.1 203.5,1248.6 206.1,1247.1 208.6,1245.6 211.2,1244.0 213.7,1242.4 216.2,1240.8 218.8,1239.2 221.3,1237.6 223.7,1235.9 226.2,1234.3 228.7,1232.6 231.1,1230.8 233.6,1229.1 236.0,1227.4 238.4,1225.6 240.8,1223.8 243.2,1222.0 245.5,1220.1 247.9,1218.3 250.2,1216.4 252.6,1214.5 254.9,1212.6 257.2,1210.7 259.5,1208.8 261.8,1206.8 264.1,1204.9 266.3,1202.9 268.6,1200.9 270.8,1198.9 273.0,1196.9 275.2,1194.8 277.4,1192.8 279.6,1190.7 281.8,1188.6 284.0,1186.6 286.1,1184.5 288.3,1182.4 290.4,1180.2 292.5,1178.1 294.6,1176.0 296.8,1173.8 298.9,1171.7 301.0,1169.5 303.0,1167.3 305.1,1165.2 307.2,1163.0 309.3,1160.8 311.3,1158.6 313.4,1156.4 315.5,1154.2 317.5,1152.0 319.6,1149.7 321.6,1147.5 323.7,1145.3 325.7,1143.1 327.7,1140.9 329.8,1138.6 331.8,1136.4 333.8,1134.2 335.9,1131.9 337.9,1129.7 339.9,1127.5 342.0,1125.2 344.0,1123.0 346.0,1120.8 348.1,1118.6 350.1,1116.3 352.2,1114.1 354.2,1111.9 356.2,1109.7 358.3,1107.5 360.3,1105.3 362.4,1103.0 364.4,1100.8 366.5,1098.6 368.5,1096.4 370.6,1094.3 372.7,1092.1 374.7,1089.9 376.8,1087.7 378.9,1085.5 380.9,1083.3 383.0,1081.1 385.1,1078.9 387.1,1076.8 389.2,1074.6 391.3,1072.4 393.3,1070.2 395.4,1068.1 397.5,1065.9 399.6,1063.7 401.6,1061.6 403.7,1059.4 405.8,1057.2 407.9,1055.1 410.0,1052.9 412.0,1050.7 414.1,1048.6 416.2,1046.4 418.3,1044.3 420.4,1042.1 422.5,1040.0 424.5,1037.8 426.6,1035.6 428.7,1033.5 430.8,1031.3 432.9,1029.2 435.0,1027.0 437.1,1024.9 439.2,1022.7 441.3,1020.6 443.3,1018.4 445.4,1016.3 447.5,1014.1 449.6,1012.0 451.7,1009.8 453.8,1007.7 455.9,1005.6 458.0,1003.4 460.1,1001.3 462.1,999.1 464.2,997.0 466.3,994.8 468.4,992.7 470.5,990.5 472.6,988.4 474.7,986.2 476.8,984.1 478.8,981.9 480.9,979.8 483.0,977.6 485.1,975.5 487.2,973.3 489.3,971.1 491.3,969.0 493.4,966.8 495.5,964.7 497.6,962.5 499.7,960.3 501.7,958.2 503.8,956.0 505.9,953.9 508.0,951.7 510.0,949.5 512.1,947.4 514.2,945.2 516.3,943.0 518.3,940.9 520.4,938.7 522.5,936.5 524.6,934.4 526.6,932.2 528.7,930.0 530.8,927.8 532.8,925.7 534.9,923.5 537.0,921.3 539.0,919.1 541.1,917.0 543.2,914.8 545.2,912.6 547.3,910.4 549.4,908.3 551.4,906.1 553.5,903.9 555.6,901.7 557.6,899.6 559.7,897.4 561.8,895.2 563.8,893.0 565.9,890.8 568.0,888.7 570.0,886.5 572.1,884.3 574.2,882.1 576.2,879.9 578.3,877.8 580.4,875.6 582.4,873.4 584.5,871.2 586.6,869.1 588.6,866.9 590.7,864.7 592.8,862.5 594.9,860.3 596.9,858.2 599.0,856.0 601.1,853.8 603.1,851.6 605.2,849.5 607.3,847.3 609.4,845.1 611.4,842.9 613.5,840.8 615.6,838.6 617.7,836.4 619.7,834.2 621.8,832.1 623.9,829.9 626.0,827.7 628.0,825.6 630.1,823.4 632.2,821.2 634.3,819.1 636.4,816.9 638.5,814.7 640.5,812.6 642.6,810.4 644.7,808.2 646.8,806.1 648.9,803.9 651.0,801.8 653.1,799.6 655.2,797.4 657.3,795.3 659.3,793.1 661.4,791.0 663.5,788.8 665.6,786.6 667.7,784.5 669.8,782.3 671.9,780.2 674.0,778.0 676.1,775.8 678.2,773.7 680.3,771.5 682.4,769.4 684.5,767.2 686.6,765.1 688.7,762.9 690.8,760.8 692.9,758.6 695.0,756.4 697.0,754.3 699.1,752.1 701.2,750.0 703.3,747.8 705.4,745.7 707.5,743.5 709.6,741.3 711.7,739.2 713.8,737.0 715.9,734.9 718.0,732.7 720.1,730.6 722.2,728.4 724.3,726.2 726.4,724.1 728.5,721.9 730.6,719.8 732.6,717.6 734.7,715.4 736.8,713.3 738.9,711.1 741.0,709.0 743.1,706.8 745.2,704.6 747.3,702.5 749.3,700.3 751.4,698.1 753.5,696.0 755.6,693.8 757.7,691.6 759.8,689.5 761.8,687.3 763.9,685.1 766.0,682.9 768.1,680.8 770.1,678.6 772.2,676.4 774.3,674.2 776.4,672.1 778.4,669.9 780.5,667.7 782.6,665.5 784.7,663.4 786.7,661.2 788.8,659.0 790.9,656.8 792.9,654.6 795.0,652.5 797.1,650.3 799.1,648.1 801.2,645.9 803.3,643.7 805.3,641.5 807.4,639.3 809.4,637.2 811.5,635.0 813.6,632.8 815.6,630.6 817.7,628.4 819.7,626.2 821.8,624.0 823.8,621.8 825.9,619.6 828.0,617.4 830.0,615.3 832.1,613.1 834.1,610.9 836.2,608.7 838.2,606.5 840.3,604.3 842.3,602.1 844.3,599.9 846.4,597.7 848.4,595.5 850.5,593.3 852.5,591.1 854.6,588.9 856.6,586.7 858.7,584.5 860.7,582.3 862.7,580.0 864.8,577.8 866.8,575.6 868.8,573.4 870.9,571.2 872.9,569.0 875.0,566.8 877.0,564.6 879.0,562.4 881.1,560.2 883.1,558.0 885.1,555.7 887.1,553.5 889.2,551.3 891.2,549.1 893.2,546.9 895.3,544.7 897.3,542.4 899.3,540.2 901.3,538.0 903.4,535.8 905.4,533.6 907.4,531.4 909.4,529.1 911.5,526.9 913.5,524.7 915.5,522.5 917.5,520.2 919.5,518.0 921.5,515.8 923.6,513.6 925.6,511.3 927.6,509.1 929.6,506.9 931.6,504.7 933.6,502.4 935.6,500.2 937.7,498.0 939.7,495.7 941.7,493.5 943.7,491.3 945.7,489.1 947.7,486.8 949.7,484.6 951.7,482.3 953.7,480.1 955.7,477.9 957.7,475.6 959.7,473.4 961.7,471.2 963.7,468.9 965.7,466.7 967.7,464.5 969.7,462.2 971.7,460.0 973.7,457.7 975.7,455.5 977.7,453.3 979.7,451.0 981.7,448.8 983.7,446.5 985.7,444.3 987.7,442.0 989.7,439.8 991.7,437.5 993.7,435.3 995.7,433.0 997.7,430.8 999.7,428.6 1001.7,426.3 1003.7,424.1 1005.7,421.8 1007.6,419.6 1009.6,417.3 1011.6,415.1 1013.6,412.9 1015.6,410.6 1017.6,408.4 1019.7,406.2 1021.7,403.9 1023.7,401.7 1025.7,399.5 1027.7,397.2 1029.7,395.0 1031.7,392.8 1033.8,390.6 1035.8,388.4 1037.8,386.2 1039.9,384.0 1041.9,381.8 1043.9,379.6 1046.0,377.4 1048.0,375.2 1050.1,373.0 1052.2,370.8 1054.2,368.6 1056.3,366.5 1058.4,364.3 1060.5,362.1 1062.6,360.0 1064.6,357.8 1066.7,355.7 1068.9,353.6 1071.0,351.4 1073.1,349.3 1075.2,347.2 1077.4,345.1 1079.5,343.0 1081.6,340.9 1083.8,338.8 1086.0,336.7 1088.1,334.6 1090.3,332.5 1092.5,330.5 1094.7,328.4 1096.9,326.4 1099.1,324.3 1101.4,322.3 1103.6,320.3 1105.8,318.3 1108.1,316.3 1110.3,314.3 1112.6,312.3 1114.9,310.3 1117.2,308.4 1119.5,306.4 1121.8,304.5 1124.1,302.5 1126.4,300.6 1128.8,298.7 1131.1,296.8 1133.5,294.9 1135.9,293.0 1138.2,291.2 1140.6,289.3 1143.0,287.5 1145.4,285.6 1147.8,283.8 1150.3,282.0 1152.7,280.2 1155.1,278.5 1157.6,276.7 1160.1,275.0 1162.5,273.2 1165.0,271.5 1167.5,269.8 1170.0,268.1 1172.5,266.5 1175.0,264.8 1177.6,263.2 1180.1,261.6 1182.7,260.0 1185.2,258.4 1187.8,256.8 1190.4,255.3 1193.0,253.7 1195.6,252.2 1198.2,250.7 1200.8,249.3 1203.4,247.8 1206.0,246.4 1208.7,244.9 1211.3,243.6 1214.0,242.2 1216.7,240.8 1219.3,239.5 1222.0,238.2 1224.7,236.9 1227.4,235.6 1230.2,234.4 1232.9,233.1 1235.6,231.9 1238.4,230.7 1241.1,229.6 1243.9,228.4 1246.6,227.3 1249.4,226.2 1252.2,225.1 1255.0,224.0 1257.8,223.0 1260.6,221.9 1263.4,220.9 1266.2,219.9 1269.0,219.0 1271.9,218.0 1274.7,217.1 1277.6,216.2 1280.4,215.3 1283.3,214.4 1286.1,213.5 1289.0,212.7 1291.9,211.8 1294.8,211.0 1297.7,210.2 1300.6,209.4 1303.4,208.7 1306.4,207.9 1309.3,207.2 1312.2,206.5 1315.1,205.8 1318.0,205.1 1320.9,204.4 1323.9,203.8 1326.8,203.1 1329.7,202.5 1332.7,201.9 1335.6,201.3 1338.5,200.7 1341.5,200.2 1344.4,199.6 1347.4,199.1 1350.4,198.6 1353.3,198.1 1356.3,197.6 1359.2,197.1 1362.2,196.6 1365.2,196.2 1368.1,195.7 1371.1,195.3 1374.1,194.9 1377.0,194.5 1380.0,194.1 1383.0,193.7 1386.0,193.3 1389.0,193.0 1391.9,192.6 1394.9,192.3 1397.9,192.0 1400.9,191.6 1403.9,191.3 1406.9,191.0 1409.9,190.7 1412.9,190.5 1415.9,190.2 1418.9,189.9 1421.8,189.7 1424.8,189.4 1427.8,189.2 1430.8,189.0 1433.8,188.7 1436.8,188.5 1439.9,188.3 1442.9,188.1 1445.9,187.9 1448.9,187.7 1451.9,187.5 1454.9,187.4 1457.9,187.2 1460.9,187.0 1463.9,186.9 1466.9,186.7 1469.9,186.6 1472.9,186.4 1475.9,186.3 1479.0,186.1 1482.0,186.0 1485.0,185.9 1488.0,185.7 1491.0,185.6 1494.0,185.5 1497.0,185.4 1500.0,185.2 1503.1,185.1 1506.1,185.0 1509.1,184.9 1512.1,184.8 1515.1,184.7 1518.1,184.6 1521.1,184.4 1524.2,184.3 1527.2,184.2 1530.2,184.1 1533.2,184.0 1536.2,183.9 1539.2,183.8 1542.2,183.7 1545.2,183.5 1548.3,183.4 1551.3,183.3 1554.3,183.2 1557.3,183.1 1560.3,183.0 1563.3,182.9 1566.3,182.7 1569.3,182.6 1572.3,182.5 1575.3,182.4 1578.4,182.3 1581.4,182.2 1584.4,182.1 1587.4,181.9 1590.4,181.8 1593.4,181.7 1596.4,181.6 1599.4,181.5 1602.4,181.4 1605.4,181.2 1608.4,181.1 1611.4,181.0 1614.4,180.9 1617.4,180.8 1620.5,180.6 1623.5,180.5 1626.5,180.4 1629.5,180.3 1632.5,180.2 1635.5,180.1 1638.5,179.9 1641.5,179.8 1644.5,179.7 1647.5,179.6 1650.5,179.5 1653.5,179.3 1656.5,179.2 1659.5,179.1 1662.5,179.0 1665.5,178.9 1668.5,178.7 1671.5,178.6 1674.5,178.5 1677.5,178.4 1680.5,178.3 1683.5,178.1 1686.5,178.0 1689.5,177.9 1692.5,177.8 1695.5,177.7 1698.5,177.5 1701.5,177.4 1704.5,177.3 1707.5,177.2 1710.5,177.1 1713.5,176.9 1716.5,176.8 1719.5,176.7 1722.5,176.6 1725.5,176.4 1728.5,176.3 1731.5,176.2 1734.5,176.1 1737.5,176.0 1740.5,175.8 1743.5,175.7 1746.5,175.6 1749.5,175.5 1752.5,175.4 1755.5,175.2 1758.5,175.1 1761.5,175.0 1764.5,174.9 1767.5,174.8 1770.5,174.7 1773.5,174.5 1776.5,174.4 1779.5,174.3 1782.5,174.2 1785.5,174.1 1788.5,173.9 1791.5,173.8 1794.5,173.7 1797.5,173.6 1800.5,173.5 1803.5,173.4 1806.5,173.2 1809.5,173.1 1812.5,173.0 1815.5,172.9 1818.5,172.8 1821.5,172.7 1824.5,172.5 1827.5,172.4 1830.5,172.3 1833.5,172.2 1836.5,172.1 1839.5,172.0 1842.5,171.8 1845.5,171.7 1848.5,171.6 1851.5,171.5 1854.5,171.4 1857.5,171.3 1860.5,171.2 1863.5,171.1 1866.5,170.9 1869.5,170.8 1872.5,170.7 1875.5,170.6 1878.5,170.5 1881.5,170.4 1884.5,170.3 1887.5,170.2 1890.5,170.1 1893.5,169.9 1896.5,169.8 1899.5,169.7 1902.5,169.6 1905.5,169.5 1908.5,169.4 1911.5,169.3 1914.5,169.2 1917.5,169.1 1920.5,169.0 1923.5,168.9 1926.5,168.8 1929.5,168.7 1932.5,168.6 1935.5,168.5 1938.5,168.4 1941.5,168.3 1944.5,168.2 1947.5,168.1 1950.5,167.9 1953.5,167.8 1956.6,167.7 1959.6,167.6 1962.6,167.5 1965.6,167.5 1968.6,167.4 1971.6,167.3 1974.6,167.2 1977.6,167.1 1980.6,167.0 1983.6,166.9 1986.6,166.8 1989.6,166.7 1992.6,166.6 1995.6,166.5 1998.6,166.4 2001.6,166.3 2004.6,166.2 2007.6,166.1 2010.6,166.0 2013.6,165.9 2016.6,165.9 2019.6,165.8 2022.7,165.7 2025.7,165.6 2028.7,165.5 2031.7,165.4 2034.7,165.3 2037.7,165.2 2040.7,165.2 2043.7,165.1 2046.7,165.0 2049.7,164.9 2052.7,164.8 2055.7,164.7 2058.8,164.7 2061.8,164.6 2064.8,164.5 2067.8,164.4 2070.8,164.3 2073.8,164.3 2076.8,164.2 2079.8,164.1 2082.8,164.0 2085.9,164.0 2088.9,163.9 2091.9,163.8 2094.9,163.8 2097.9,163.7 2100.9,163.6 2103.9,163.5 2106.9,163.5 2110.0,163.4 2113.0,163.3 2116.0,163.3 2119.0,163.2" fill="none" stroke="#0320c6" stroke-width="7.5" stroke-linecap="round" stroke-linejoin="round" />
<path d="M57.0,1289.0L59.9,1288.2 62.7,1287.4 65.6,1286.6 68.5,1285.8 71.3,1285.0 74.2,1284.2 77.1,1283.3 80.0,1282.5 82.8,1281.6 85.7,1280.7 88.5,1279.8 91.4,1278.9 94.3,1277.9 97.1,1277.0 100.0,1276.0 102.8,1275.0 105.7,1274.0 108.5,1273.0 111.4,1272.0 114.2,1270.9 117.0,1269.9 119.9,1268.8 122.7,1267.7 125.5,1266.6 128.3,1265.5 131.1,1264.4 133.9,1263.2 136.7,1262.1 139.5,1260.9 142.3,1259.7 145.0,1258.5 147.8,1257.3 150.5,1256.0 153.3,1254.8 156.0,1253.5 158.8,1252.2 161.5,1250.9 164.2,1249.6 166.9,1248.2 169.6,1246.8 172.3,1245.5 175.0,1244.1 177.6,1242.7 180.3,1241.2 182.9,1239.8 185.5,1238.3 188.2,1236.8 190.8,1235.3 193.4,1233.8 195.9,1232.3 198.5,1230.7 201.1,1229.2 203.6,1227.6 206.1,1226.0 208.7,1224.3 211.2,1222.7 213.6,1221.0 216.1,1219.3 218.6,1217.6 221.0,1215.9 223.5,1214.2 225.9,1212.5 228.4,1210.7 230.8,1209.0 233.2,1207.2 235.6,1205.4 238.0,1203.6 240.3,1201.8 242.7,1199.9 245.1,1198.1 247.4,1196.2 249.8,1194.4 252.1,1192.5 254.5,1190.6 256.8,1188.7 259.1,1186.9 261.4,1185.0 263.8,1183.0 266.1,1181.1 268.4,1179.2 270.7,1177.3 273.0,1175.3 275.3,1173.4 277.6,1171.4 279.9,1169.5 282.1,1167.5 284.4,1165.6 286.7,1163.6 289.0,1161.7 291.3,1159.7 293.6,1157.7 295.8,1155.8 298.1,1153.8 300.4,1151.8 302.7,1149.9 305.0,1147.9 307.3,1146.0 309.6,1144.0 311.9,1142.0 314.2,1140.1 316.5,1138.1 318.8,1136.2 321.1,1134.2 323.4,1132.3 325.7,1130.3 328.0,1128.4 330.3,1126.5 332.6,1124.5 334.9,1122.6 337.2,1120.6 339.5,1118.7 341.8,1116.7 344.1,1114.8 346.4,1112.8 348.6,1110.8 350.8,1108.8 353.1,1106.8 355.3,1104.7 357.5,1102.7 359.6,1100.6 361.8,1098.5 363.9,1096.4 366.0,1094.3 368.0,1092.1 370.1,1090.0 372.1,1087.8 374.1,1085.5 376.0,1083.3 377.9,1081.0 379.8,1078.6 381.7,1076.3 383.5,1073.9 385.3,1071.5 387.1,1069.1 388.9,1066.7 390.6,1064.2 392.3,1061.7 394.0,1059.3 395.7,1056.8 397.4,1054.3 399.1,1051.8 400.8,1049.2 402.4,1046.7 404.1,1044.2 405.7,1041.6 407.4,1039.1 409.0,1036.6 410.7,1034.0 412.4,1031.5 414.0,1029.0 415.7,1026.5 417.4,1024.0 419.1,1021.5 420.8,1019.0 422.6,1016.5 424.3,1014.1 426.0,1011.6 427.8,1009.2 429.6,1006.7 431.3,1004.3 433.1,1001.9 434.9,999.5 436.7,997.0 438.5,994.6 440.3,992.2 442.2,989.9 444.0,987.5 445.8,985.1 447.7,982.7 449.5,980.4 451.4,978.0 453.2,975.7 455.1,973.3 457.0,971.0 458.9,968.6 460.8,966.3 462.6,964.0 464.5,961.6 466.4,959.3 468.3,957.0 470.3,954.7 472.2,952.4 474.1,950.1 476.0,947.7 477.9,945.4 479.8,943.1 481.7,940.8 483.7,938.5 485.6,936.2 487.5,933.9 489.5,931.6 491.4,929.3 493.3,927.0 495.2,924.7 497.2,922.4 499.1,920.1 501.0,917.8 502.9,915.5 504.9,913.2 506.8,910.9 508.7,908.6 510.6,906.3 512.6,904.0 514.5,901.7 516.4,899.4 518.3,897.1 520.2,894.8 522.1,892.4 524.0,890.1 525.9,887.8 527.8,885.5 529.7,883.1 531.5,880.8 533.4,878.4 535.3,876.1 537.1,873.7 539.0,871.4 540.8,869.0 542.7,866.6 544.5,864.2 546.4,861.8 548.2,859.5 550.0,857.1 551.8,854.7 553.6,852.3 555.4,849.8 557.2,847.4 559.0,845.0 560.8,842.6 562.6,840.2 564.4,837.7 566.2,835.3 567.9,832.9 569.7,830.4 571.5,828.0 573.2,825.5 575.0,823.1 576.7,820.6 578.5,818.2 580.3,815.7 582.0,813.3 583.8,810.8 585.5,808.4 587.2,805.9 589.0,803.4 590.7,801.0 592.5,798.5 594.2,796.1 595.9,793.6 597.7,791.1 599.4,788.7 601.2,786.2 602.9,783.7 604.6,781.3 606.4,778.8 608.1,776.3 609.8,773.9 611.6,771.4 613.3,769.0 615.1,766.5 616.8,764.0 618.6,761.6 620.3,759.1 622.0,756.7 623.8,754.2 625.6,751.8 627.3,749.3 629.1,746.9 630.8,744.5 632.6,742.0 634.4,739.6 636.1,737.2 637.9,734.8 639.7,732.3 641.5,729.9 643.3,727.5 645.0,725.1 646.8,722.7 648.6,720.3 650.4,717.9 652.3,715.5 654.1,713.1 655.9,710.8 657.7,708.4 659.5,706.0 661.4,703.7 663.2,701.3 665.1,698.9 666.9,696.6 668.8,694.3 670.7,691.9 672.6,689.6 674.4,687.3 676.3,685.0 678.2,682.7 680.2,680.4 682.1,678.1 684.0,675.9 686.0,673.6 687.9,671.4 689.9,669.1 692.0,667.0 694.0,664.8 696.1,662.7 698.3,660.6 700.5,658.5 702.7,656.5 705.0,654.5 707.3,652.5 709.7,650.6 712.2,648.8 714.6,647.0 717.2,645.2 719.8,643.5 722.4,641.9 725.0,640.4 727.7,638.9 730.5,637.5 733.2,636.2 736.0,635.0 738.9,633.9 741.7,633.0 744.6,632.1 747.4,631.4 750.3,630.8 753.2,630.4 756.2,630.1 759.1,629.9 762.0,629.9 764.9,630.1 767.8,630.4 770.7,630.8 773.6,631.4 776.5,632.1 779.3,632.9 782.1,633.9 784.9,635.0 787.6,636.3 790.3,637.6 793.0,639.1 795.6,640.6 798.2,642.3 800.7,644.1 803.1,645.9 805.6,647.8 807.9,649.8 810.2,651.8 812.4,653.9 814.6,656.1 816.8,658.3 818.8,660.5 820.8,662.8 822.8,665.1 824.7,667.4 826.6,669.8 828.4,672.1 830.1,674.6 831.9,677.0 833.6,679.5 835.2,682.0 836.9,684.5 838.4,687.0 840.0,689.5 841.6,692.1 843.1,694.7 844.6,697.2 846.1,699.8 847.5,702.4 849.0,705.0 850.4,707.7 851.8,710.3 853.1,713.0 854.5,715.6 855.8,718.3 857.2,721.0 858.5,723.7 859.8,726.4 861.0,729.1 862.3,731.8 863.5,734.5 864.8,737.3 866.0,740.0 867.2,742.8 868.4,745.5 869.6,748.3 870.7,751.1 871.9,753.8 873.0,756.6 874.2,759.4 875.3,762.2 876.4,765.0 877.6,767.8 878.7,770.6 879.8,773.4 880.9,776.2 882.0,779.0 883.1,781.8 884.1,784.7 885.2,787.5 886.3,790.3 887.4,793.1 888.5,795.9 889.5,798.7 890.6,801.6 891.7,804.4 892.8,807.2 893.9,810.0 894.9,812.8 896.0,815.6 897.1,818.4 898.2,821.3 899.3,824.1 900.3,826.9 901.4,829.7 902.5,832.5 903.6,835.3 904.7,838.1 905.8,840.9 906.9,843.7 908.0,846.5 909.1,849.3 910.2,852.1 911.3,854.9 912.4,857.7 913.5,860.5 914.6,863.3 915.7,866.1 916.8,868.9 917.9,871.7 919.0,874.5 920.2,877.3 921.3,880.1 922.4,882.9 923.5,885.7 924.7,888.4 925.8,891.2 927.0,894.0 928.1,896.8 929.2,899.6 930.4,902.3 931.5,905.1 932.7,907.9 933.9,910.7 935.0,913.4 936.2,916.2 937.4,918.9 938.6,921.7 939.8,924.5 940.9,927.2 942.1,930.0 943.3,932.7 944.5,935.5 945.8,938.2 947.0,941.0 948.2,943.7 949.4,946.5 950.7,949.2 951.9,951.9 953.1,954.7 954.4,957.4 955.6,960.1 956.9,962.9 958.2,965.6 959.4,968.3 960.7,971.0 962.0,973.7 963.3,976.4 964.6,979.2 965.9,981.9 967.2,984.6 968.5,987.3 969.9,990.0 971.2,992.7 972.5,995.3 973.9,998.0 975.2,1000.7 976.6,1003.4 978.0,1006.1 979.4,1008.8 980.8,1011.4 982.2,1014.1 983.6,1016.7 985.0,1019.4 986.4,1022.0 987.9,1024.7 989.3,1027.3 990.8,1029.9 992.3,1032.5 993.8,1035.1 995.4,1037.7 996.9,1040.3 998.5,1042.8 1000.0,1045.4 1001.6,1047.9 1003.3,1050.4 1004.9,1052.9 1006.6,1055.4 1008.3,1057.9 1010.0,1060.4 1011.7,1062.8 1013.4,1065.2 1015.2,1067.6 1017.0,1070.0 1018.9,1072.4 1020.7,1074.7 1022.6,1077.0 1024.5,1079.4 1026.5,1081.6 1028.4,1083.9 1030.4,1086.1 1032.5,1088.3 1034.5,1090.5 1036.6,1092.7 1038.8,1094.8 1040.9,1097.0 1043.1,1099.1 1045.3,1101.1 1047.5,1103.2 1049.7,1105.3 1052.0,1107.3 1054.2,1109.4 1056.4,1111.4 1058.7,1113.4 1060.9,1115.5 1063.1,1117.5 1065.4,1119.6 1067.6,1121.6 1069.8,1123.6 1072.1,1125.6 1074.3,1127.5 1076.6,1129.5 1078.9,1131.4 1081.2,1133.3 1083.6,1135.1 1086.0,1136.9 1088.4,1138.6 1090.8,1140.4 1093.3,1142.0 1095.8,1143.7 1098.3,1145.3 1100.8,1146.9 1103.4,1148.4 1105.9,1149.9 1108.5,1151.4 1111.2,1152.9 1113.8,1154.3 1116.4,1155.7 1119.1,1157.1 1121.8,1158.5 1124.5,1159.8 1127.2,1161.2 1129.9,1162.5 1132.6,1163.8 1135.3,1165.0 1138.1,1166.3 1140.8,1167.6 1143.6,1168.8 1146.3,1170.0 1149.1,1171.3 1151.8,1172.5 1154.6,1173.7 1157.3,1174.9 1160.1,1176.1 1162.9,1177.3 1165.6,1178.5 1168.4,1179.6 1171.2,1180.8 1174.0,1182.0 1176.7,1183.1 1179.5,1184.3 1182.3,1185.4 1185.1,1186.5 1187.9,1187.6 1190.7,1188.8 1193.5,1189.9 1196.3,1191.0 1199.1,1192.1 1201.9,1193.1 1204.7,1194.2 1207.5,1195.3 1210.3,1196.4 1213.1,1197.4 1215.9,1198.5 1218.7,1199.6 1221.6,1200.6 1224.4,1201.6 1227.2,1202.7 1230.0,1203.7 1232.8,1204.7 1235.7,1205.7 1238.5,1206.8 1241.3,1207.8 1244.2,1208.8 1247.0,1209.8 1249.8,1210.8 1252.7,1211.7 1255.5,1212.7 1258.4,1213.7 1261.2,1214.7 1264.0,1215.6 1266.9,1216.6 1269.7,1217.6 1272.6,1218.5 1275.4,1219.5 1278.3,1220.4 1281.1,1221.4 1284.0,1222.3 1286.9,1223.2 1289.7,1224.2 1292.6,1225.1 1295.4,1226.0 1298.3,1226.9 1301.2,1227.9 1304.0,1228.8 1306.9,1229.7 1309.8,1230.6 1312.6,1231.5 1315.5,1232.4 1318.4,1233.3 1321.3,1234.2 1324.1,1235.1 1327.0,1235.9 1329.9,1236.8 1332.8,1237.7 1335.6,1238.6 1338.5,1239.4 1341.4,1240.3 1344.3,1241.2 1347.2,1242.0 1350.1,1242.9 1352.9,1243.7 1355.8,1244.6 1358.7,1245.4 1361.6,1246.2 1364.5,1247.1 1367.4,1247.9 1370.3,1248.7 1373.2,1249.5 1376.1,1250.3 1379.0,1251.1 1381.9,1252.0 1384.8,1252.8 1387.7,1253.6 1390.6,1254.3 1393.5,1255.1 1396.4,1255.9 1399.3,1256.7 1402.2,1257.5 1405.1,1258.2 1408.0,1259.0 1410.9,1259.8 1413.8,1260.5 1416.7,1261.3 1419.6,1262.0 1422.6,1262.8 1425.5,1263.5 1428.4,1264.3 1431.3,1265.0 1434.2,1265.7 1437.1,1266.4 1440.1,1267.2 1443.0,1267.9 1445.9,1268.6 1448.8,1269.3 1451.7,1270.0 1454.7,1270.7 1457.6,1271.4 1460.5,1272.1 1463.4,1272.8 1466.4,1273.4 1469.3,1274.1 1472.2,1274.8 1475.1,1275.4 1478.1,1276.1 1481.0,1276.8 1483.9,1277.4 1486.9,1278.1 1489.8,1278.7 1492.7,1279.3 1495.7,1280.0 1498.6,1280.6 1501.5,1281.2 1504.5,1281.8 1507.4,1282.4 1510.4,1283.0 1513.3,1283.7 1516.2,1284.2 1519.2,1284.8 1522.1,1285.4 1525.1,1286.0 1528.0,1286.6" fill="none" stroke="#0320c6" stroke-width="7.5" stroke-linecap="round" stroke-linejoin="round" />
<path d="M57.0,1289.0L59.9,1288.4 62.9,1287.7 65.8,1287.0 68.7,1286.2 71.6,1285.4 74.5,1284.6 77.4,1283.7 80.2,1282.7 83.1,1281.7 85.9,1280.7 88.7,1279.6 91.5,1278.4 94.3,1277.3 97.0,1276.0 99.8,1274.8 102.5,1273.5 105.2,1272.1 107.9,1270.7 110.5,1269.3 113.2,1267.8 115.8,1266.3 118.3,1264.7 120.9,1263.2 123.4,1261.5 126.0,1259.8 128.4,1258.1 130.9,1256.4 133.3,1254.6 135.7,1252.8 138.1,1250.9 140.4,1249.0 142.8,1247.1 145.0,1245.1 147.3,1243.1 149.5,1241.1 151.7,1239.0 153.9,1236.9 156.0,1234.8 158.1,1232.6 160.1,1230.4 162.1,1228.2 164.1,1225.9 166.0,1223.6 167.9,1221.3 169.8,1219.0 171.6,1216.6 173.4,1214.2 175.2,1211.8 176.9,1209.3 178.5,1206.8 180.2,1204.3 181.7,1201.8 183.3,1199.2 184.8,1196.6 186.2,1194.0 187.6,1191.4 189.0,1188.7 190.4,1186.0 191.7,1183.3 193.0,1180.6 194.2,1177.9 195.4,1175.1 196.7,1172.4 197.8,1169.6 199.0,1166.8 200.2,1164.1 201.3,1161.3 202.4,1158.5 203.5,1155.7 204.7,1152.9 205.8,1150.1 206.9,1147.2 208.0,1144.4 209.1,1141.6 210.2,1138.8 211.3,1136.0 212.4,1133.2 213.6,1130.5 214.7,1127.7 215.8,1124.9 217.0,1122.1 218.1,1119.3 219.3,1116.6 220.4,1113.8 221.6,1111.0 222.8,1108.3 223.9,1105.5 225.1,1102.7 226.2,1100.0 227.4,1097.2 228.6,1094.4 229.7,1091.7 230.9,1088.9 232.0,1086.1 233.2,1083.3 234.3,1080.6 235.4,1077.8 236.6,1075.0 237.7,1072.3 238.9,1069.5 240.0,1066.7 241.1,1063.9 242.3,1061.1 243.4,1058.4 244.5,1055.6 245.6,1052.8 246.7,1050.0 247.9,1047.2 249.0,1044.4 250.1,1041.7 251.2,1038.9 252.3,1036.1 253.4,1033.3 254.5,1030.5 255.6,1027.7 256.7,1024.9 257.8,1022.1 258.9,1019.3 260.0,1016.5 261.1,1013.7 262.2,1010.9 263.3,1008.1 264.4,1005.3 265.4,1002.5 266.5,999.7 267.6,996.9 268.7,994.1 269.8,991.3 270.8,988.5 271.9,985.7 273.0,982.9 274.0,980.1 275.1,977.3 276.2,974.5 277.2,971.7 278.3,968.9 279.4,966.1 280.4,963.2 281.5,960.4 282.5,957.6 283.6,954.8 284.7,952.0 285.7,949.2 286.8,946.4 287.8,943.5 288.9,940.7 289.9,937.9 291.0,935.1 292.0,932.3 293.0,929.5 294.1,926.6 295.1,923.8 296.2,921.0 297.2,918.2 298.2,915.4 299.3,912.5 300.3,909.7 301.4,906.9 302.4,904.1 303.4,901.2 304.5,898.4 305.5,895.6 306.5,892.8 307.5,889.9 308.6,887.1 309.6,884.3 310.6,881.5 311.6,878.6 312.7,875.8 313.7,873.0 314.7,870.1 315.7,867.3 316.8,864.5 317.8,861.7 318.8,858.8 319.8,856.0 320.8,853.2 321.9,850.3 322.9,847.5 323.9,844.7 324.9,841.8 325.9,839.0 326.9,836.2 328.0,833.4 329.0,830.5 330.0,827.7 331.0,824.9 332.0,822.0 333.0,819.2 334.1,816.4 335.1,813.5 336.1,810.7 337.1,807.9 338.1,805.0 339.1,802.2 340.1,799.4 341.1,796.5 342.2,793.7 343.2,790.9 344.2,788.0 345.2,785.2 346.2,782.4 347.2,779.5 348.2,776.7 349.2,773.9 350.3,771.0 351.3,768.2 352.3,765.4 353.3,762.5 354.3,759.7 355.3,756.9 356.3,754.0 357.3,751.2 358.4,748.4 359.4,745.5 360.4,742.7 361.4,739.9 362.4,737.1 363.4,734.2 364.5,731.4 365.5,728.6 366.5,725.7 367.5,722.9 368.5,720.1 369.5,717.2 370.6,714.4 371.6,711.6 372.6,708.7 373.6,705.9 374.7,703.1 375.7,700.3 376.7,697.4 377.7,694.6 378.8,691.8 379.8,689.0 380.8,686.1 381.8,683.3 382.9,680.5 383.9,677.7 384.9,674.8 386.0,672.0 387.0,669.2 388.0,666.4 389.1,663.5 390.1,660.7 391.1,657.9 392.2,655.1 393.2,652.3 394.2,649.4 395.3,646.6 396.3,643.8 397.4,641.0 398.4,638.2 399.5,635.3 400.5,632.5 401.6,629.7 402.6,626.9 403.7,624.1 404.7,621.3 405.8,618.4 406.8,615.6 407.9,612.8 408.9,610.0 410.0,607.2 411.1,604.4 412.1,601.6 413.2,598.8 414.3,596.0 415.3,593.2 416.4,590.3 417.5,587.5 418.6,584.7 419.6,581.9 420.7,579.1 421.8,576.3 422.9,573.5 424.0,570.7 425.1,567.9 426.1,565.1 427.2,562.3 428.3,559.5 429.4,556.7 430.5,553.9 431.6,551.1 432.7,548.3 433.8,545.5 434.9,542.7 436.1,539.9 437.2,537.1 438.3,534.3 439.4,531.6 440.5,528.8 441.6,526.0 442.8,523.2 443.9,520.4 445.0,517.6 446.2,514.8 447.3,512.0 448.4,509.3 449.6,506.5 450.7,503.7 451.9,500.9 453.0,498.1 454.2,495.4 455.3,492.6 456.5,489.8 457.7,487.1 458.9,484.3 460.1,481.5 461.3,478.8 462.5,476.0 463.7,473.3 464.9,470.6 466.2,467.8 467.4,465.1 468.7,462.4 470.0,459.7 471.3,457.0 472.6,454.3 473.9,451.6 475.2,448.9 476.6,446.2 477.9,443.5 479.3,440.9 480.7,438.2 482.1,435.6 483.5,433.0 484.9,430.3 486.4,427.7 487.9,425.1 489.4,422.5 490.9,420.0 492.4,417.4 494.0,414.8 495.6,412.3 497.2,409.8 498.8,407.2 500.4,404.7 502.1,402.2 503.8,399.8 505.5,397.3 507.3,394.9 509.0,392.4 510.8,390.0 512.7,387.6 514.6,385.3 516.5,383.0 518.5,380.7 520.6,378.5 522.7,376.3 524.9,374.2 527.2,372.2 529.5,370.2 532.0,368.3 534.5,366.4 537.1,364.7 539.8,363.1 542.5,361.9 545.3,360.9 548.1,360.4 551.0,360.4 553.8,361.0 556.6,361.9 559.4,363.2 562.1,364.8 564.7,366.5 567.2,368.2 569.6,370.1 571.9,372.0 574.1,374.0 576.2,376.1 578.3,378.3 580.2,380.5 582.1,382.8 583.9,385.1 585.6,387.5 587.2,390.0 588.8,392.5 590.3,395.1 591.7,397.7 593.1,400.3 594.5,403.0 595.7,405.7 597.0,408.5 598.2,411.3 599.3,414.1 600.4,417.0 601.5,419.8 602.5,422.7 603.5,425.6 604.5,428.5 605.5,431.5 606.5,434.4 607.4,437.3 608.3,440.2 609.2,443.2 610.1,446.1 611.0,449.0 611.9,451.9 612.8,454.9 613.7,457.8 614.5,460.7 615.4,463.6 616.2,466.5 617.1,469.4 617.9,472.3 618.8,475.2 619.6,478.1 620.4,481.0 621.2,483.9 622.0,486.8 622.8,489.7 623.6,492.6 624.4,495.5 625.2,498.4 626.0,501.3 626.8,504.2 627.6,507.1 628.4,509.9 629.1,512.8 629.9,515.7 630.7,518.6 631.4,521.5 632.2,524.4 633.0,527.2 633.7,530.1 634.5,533.0 635.2,535.9 636.0,538.7 636.8,541.6 637.5,544.5 638.3,547.4 639.0,550.3 639.8,553.1 640.5,556.0 641.3,558.9 642.0,561.8 642.8,564.6 643.6,567.5 644.3,570.4 645.1,573.3 645.8,576.1 646.6,579.0 647.4,581.9 648.2,584.8 648.9,587.7 649.7,590.6 650.5,593.4 651.3,596.3 652.1,599.2 652.9,602.1 653.7,605.0 654.5,607.9 655.3,610.8 656.1,613.7 656.9,616.5 657.7,619.4 658.5,622.3 659.4,625.2 660.2,628.1 661.1,631.0 661.9,633.9 662.7,636.8 663.6,639.7 664.5,642.6 665.3,645.5 666.2,648.4 667.1,651.3 667.9,654.3 668.8,657.2 669.7,660.1 670.6,663.0 671.4,665.9 672.3,668.8 673.2,671.7 674.1,674.6 675.0,677.5 675.9,680.4 676.8,683.3 677.7,686.2 678.6,689.1 679.5,692.0 680.4,694.9 681.3,697.8 682.3,700.7 683.2,703.6 684.1,706.5 685.0,709.3 685.9,712.2 686.8,715.1 687.8,718.0 688.7,720.9 689.6,723.8 690.5,726.6 691.4,729.5 692.4,732.4 693.3,735.3 694.2,738.1 695.1,741.0 696.1,743.9 697.0,746.7 697.9,749.6 698.8,752.4 699.8,755.3 700.7,758.2 701.6,761.0 702.5,763.8 703.5,766.7 704.4,769.5 705.3,772.4 706.2,775.2 707.1,778.0 708.1,780.9 709.0,783.7 709.9,786.5 710.8,789.3 711.8,792.2 712.7,795.0 713.6,797.8 714.5,800.6 715.5,803.4 716.4,806.3 717.3,809.1 718.3,811.9 719.2,814.7 720.1,817.5 721.1,820.3 722.0,823.1 723.0,826.0 723.9,828.8 724.8,831.6 725.8,834.4 726.7,837.2 727.7,840.0 728.6,842.8 729.6,845.6 730.5,848.4 731.5,851.3 732.5,854.1 733.4,856.9 734.4,859.7 735.4,862.5 736.3,865.3 737.3,868.2 738.3,871.0 739.3,873.8 740.2,876.6 741.2,879.5 742.2,882.3 743.2,885.1 744.2,887.9 745.2,890.8 746.2,893.6 747.2,896.4 748.2,899.3 749.2,902.1 750.3,905.0 751.3,907.8 752.3,910.7 753.4,913.5 754.4,916.4 755.4,919.2 756.5,922.1 757.5,925.0 758.6,927.8 759.7,930.7 760.7,933.5 761.8,936.4 762.9,939.3 764.0,942.1 765.1,945.0 766.2,947.9 767.3,950.7 768.4,953.6 769.5,956.4 770.6,959.3 771.8,962.1 772.9,965.0 774.1,967.8 775.3,970.7 776.4,973.5 777.6,976.3 778.8,979.2 780.0,982.0 781.2,984.8 782.5,987.6 783.7,990.4 785.0,993.2 786.2,996.0 787.5,998.8 788.8,1001.6 790.1,1004.3 791.4,1007.1 792.7,1009.9 794.0,1012.6 795.4,1015.3 796.7,1018.1 798.1,1020.8 799.5,1023.5 800.9,1026.2 802.3,1028.9 803.7,1031.6 805.1,1034.2 806.6,1036.9 808.0,1039.5 809.5,1042.2 811.0,1044.8 812.5,1047.4 814.1,1050.0 815.6,1052.6 817.2,1055.1 818.7,1057.7 820.3,1060.2 821.9,1062.7 823.6,1065.2 825.2,1067.7 826.9,1070.2 828.5,1072.7 830.2,1075.1 831.9,1077.5 833.7,1080.0 835.4,1082.3 837.2,1084.7 839.0,1087.1 840.8,1089.4 842.6,1091.7 844.5,1094.1 846.3,1096.3 848.2,1098.6 850.1,1100.8 852.1,1103.1 854.0,1105.3 856.0,1107.5 858.0,1109.6 860.0,1111.8 862.0,1113.9 864.1,1116.0 866.2,1118.1 868.3,1120.1 870.4,1122.1 872.5,1124.1 874.7,1126.1 876.9,1128.1 879.1,1130.0 881.3,1132.0 883.6,1133.9 885.9,1135.7 888.2,1137.6 890.5,1139.4 892.8,1141.3 895.1,1143.0 897.5,1144.8 899.9,1146.6 902.3,1148.3 904.7,1150.0 907.1,1151.7 909.6,1153.4 912.1,1155.1 914.6,1156.7 917.1,1158.3 919.6,1159.9 922.1,1161.5 924.7,1163.0 927.2,1164.6 929.8,1166.1 932.4,1167.6 935.0,1169.1 937.6,1170.6 940.2,1172.0 942.9,1173.5 945.5,1174.9 948.2,1176.3 950.9,1177.7 953.6,1179.0 956.3,1180.4 959.0,1181.7 961.7,1183.1 964.5,1184.4 967.2,1185.6 970.0,1186.9 972.8,1188.2 975.5,1189.4 978.3,1190.6 981.1,1191.8 983.9,1193.0 986.7,1194.2 989.5,1195.4 992.4,1196.5 995.2,1197.7 998.0,1198.8 1000.9,1199.9 1003.7,1201.0 1006.6,1202.0 1009.5,1203.1 1012.3,1204.2 1015.2,1205.2 1018.1,1206.2 1021.0,1207.2 1023.9,1208.2 1026.8,1209.2 1029.7,1210.2 1032.6,1211.2 1035.5,1212.1 1038.4,1213.0 1041.3,1214.0 1044.2,1214.9 1047.1,1215.8 1050.0,1216.7 1052.9,1217.6 1055.9,1218.4 1058.8,1219.3 1061.7,1220.1 1064.6,1221.0 1067.5,1221.8 1070.4,1222.6 1073.3,1223.4 1076.3,1224.2 1079.2,1225.0 1082.1,1225.8 1085.0,1226.6 1087.9,1227.3 1090.8,1228.1 1093.7,1228.8 1096.6,1229.5 1099.5,1230.3 1102.4,1231.0 1105.3,1231.7 1108.2,1232.4 1111.1,1233.1 1114.0,1233.8 1116.9,1234.5 1119.8,1235.1 1122.7,1235.8 1125.6,1236.5 1128.5,1237.1 1131.4,1237.8 1134.3,1238.4 1137.2,1239.1 1140.1,1239.7 1143.0,1240.3 1145.9,1240.9 1148.8,1241.6 1151.7,1242.2 1154.6,1242.8 1157.5,1243.4 1160.4,1244.0 1163.3,1244.6 1166.3,1245.2 1169.2,1245.8 1172.1,1246.4 1175.0,1247.0 1177.9,1247.6 1180.8,1248.2 1183.7,1248.8 1186.6,1249.4 1189.5,1250.0 1192.4,1250.6 1195.4,1251.2 1198.3,1251.8 1201.2,1252.3 1204.1,1252.9 1207.0,1253.5 1210.0,1254.1 1212.9,1254.7 1215.8,1255.3 1218.8,1255.9 1221.7,1256.5 1224.6,1257.1 1227.6,1257.7 1230.5,1258.3 1233.4,1258.9 1236.4,1259.5 1239.3,1260.1 1242.3,1260.7 1245.2,1261.3 1248.2,1261.9 1251.2,1262.6 1254.1,1263.2 1257.1,1263.8 1260.1,1264.4 1263.0,1265.0 1266.0,1265.7 1269.0,1266.3 1271.9,1266.9 1274.9,1267.5 1277.9,1268.1 1280.9,1268.8 1283.8,1269.4 1286.8,1270.0 1289.8,1270.6 1292.8,1271.2 1295.8,1271.8 1298.7,1272.4 1301.7,1273.0 1304.7,1273.5 1307.7,1274.1 1310.7,1274.7 1313.7,1275.2 1316.7,1275.8 1319.7,1276.3 1322.6,1276.9 1325.6,1277.4 1328.6,1277.9 1331.6,1278.4 1334.6,1278.9 1337.6,1279.4 1340.6,1279.9 1343.5,1280.4 1346.5,1280.8 1349.5,1281.3 1352.5,1281.7 1355.5,1282.1 1358.5,1282.5 1361.4,1282.9 1364.4,1283.3 1367.4,1283.7 1370.4,1284.0 1373.3,1284.3 1376.3,1284.7 1379.3,1285.0 1382.2,1285.2 1385.2,1285.5 1388.2,1285.8 1391.1,1286.0 1394.1,1286.2 1397.0,1286.4 1400.0,1286.6" fill="none" stroke="#0320c6" stroke-width="7.5" stroke-linecap="round" stroke-linejoin="round" />
<path d="M1758.3,729.5 L1758.8,749.7 M1759.4,777.6 L1760.0,802 M1760.4,818 L1760.9,840 M1761.4,860.8 L1762.0,882.8 M1762.9,921.6 L1763.5,948.6 M1764.4,984.6 L1764.8,1000.2 M1765.1,1011.6 L1765.3,1022.7 M1766.0,1051.7 L1766.6,1076.7 M1767.1,1094.9 L1767.7,1119.8 M1768.2,1142.5 L1768.7,1164.9 M1769.1,1178.3 L1769.6,1201 M1770.1,1221.3 L1770.7,1245.9 M1771.1,1261.8 L1771.7,1289" stroke="#000" stroke-width="3.9" fill="none"/>
<circle cx="1755.9" cy="720.6" r="9.2" fill="#000"/>
<text transform="translate(101.10,117.00) scale(1.1005,1)" font-size="72.77" font-weight="bold">u,</text>
<text transform="translate(183.23,117.00) scale(0.9433,1)" font-size="72.11" font-weight="bold">x</text>
<text transform="translate(1126.64,195.90) scale(1.0213,1)" font-size="82.79" font-weight="normal">x</text>
<text transform="translate(1166.06,207.60) scale(0.9680,1)" font-size="47.42" font-weight="normal">1,0</text>
<text transform="translate(1939.52,440.50) scale(1.1955,1)" font-size="75.82" font-weight="normal">u</text>
<text transform="translate(1985.89,452.90) scale(0.9979,1)" font-size="46.82" font-weight="normal">1,j</text>
<text transform="translate(1947.33,536.50) scale(1.0208,1)" font-size="73.42" font-weight="normal">x</text>
<text transform="translate(1987.59,547.20) scale(0.9846,1)" font-size="46.26" font-weight="normal">7,j</text>
<text transform="translate(1946.94,645.10) scale(0.9849,1)" font-size="86.06" font-weight="normal">x</text>
<text transform="translate(1993.82,646.30) scale(1.0005,1)" font-size="46.77" font-weight="normal">8,j</text>
<text transform="translate(1677.10,680.80) scale(1.0109,1)" font-size="78.63" font-weight="normal">D</text>
<text transform="translate(1739.22,646.90) scale(1.0923,1)" font-size="47.28" font-weight="normal">min</text>
<text transform="translate(1739.60,689.44) scale(0.9672,1)" font-size="50.06" font-weight="normal">j</text>
<text transform="translate(872.26,707.70) scale(0.9639,1)" font-size="73.64" font-weight="normal">x</text>
<text transform="translate(909.19,716.10) scale(0.9833,1)" font-size="46.83" font-weight="normal">3,0</text>
<text transform="translate(1149.34,729.90) scale(1.0240,1)" font-size="82.57" font-weight="normal">x</text>
<text transform="translate(1192.00,745.70) scale(0.9669,1)" font-size="46.77" font-weight="normal">4,0</text>
<text transform="translate(121.63,880.70) scale(1.2114,1)" font-size="74.29" font-weight="normal">u</text>
<text transform="translate(167.99,891.30) scale(1.0161,1)" font-size="45.32" font-weight="normal">3,0</text>
<text transform="translate(1947.25,948.20) scale(1.2229,1)" font-size="72.55" font-weight="normal">u</text>
<text transform="translate(1993.03,950.70) scale(0.9775,1)" font-size="41.24" font-weight="normal">2,j</text>
<text transform="translate(124.86,1011.50) scale(1.1904,1)" font-size="73.64" font-weight="normal">u</text>
<text transform="translate(167.96,1022.70) scale(0.9988,1)" font-size="46.37" font-weight="normal">2,0</text>
<text transform="translate(125.86,1083.70) scale(1.1736,1)" font-size="74.51" font-weight="normal">u</text>
<text transform="translate(166.79,1094.40) scale(0.9870,1)" font-size="42.73" font-weight="normal">1,0</text>
<text transform="translate(872.26,1103.70) scale(0.9639,1)" font-size="73.64" font-weight="normal">x</text>
<text transform="translate(907.37,1114.80) scale(1.0016,1)" font-size="46.07" font-weight="normal">2,0</text>
<text transform="translate(2012.43,1245.12) scale(1.1082,1)" font-size="78.18" font-weight="normal">t</text>
<text transform="translate(2054.58,1245.85) scale(0.9824,1)" font-size="74.42" font-weight="normal">(s)</text>
<text transform="translate(32.13,1364.17) scale(1.0019,1)" font-size="72.74" font-weight="normal">0</text>
<text transform="translate(318.22,1365.45) scale(0.9870,1)" font-size="74.67" font-weight="normal">1000</text>
<text transform="translate(624.05,1365.45) scale(0.9861,1)" font-size="74.81" font-weight="normal">2000</text>
<text transform="translate(1002.55,1365.55) scale(0.9862,1)" font-size="74.96" font-weight="normal">3000</text>
<text transform="translate(1400.84,1365.55) scale(0.9720,1)" font-size="74.96" font-weight="normal">4000</text>
<text transform="translate(1832.99,1363.63) scale(0.9703,1)" font-size="76.59" font-weight="normal">5000</text>
<text transform="translate(1684.55,1362.90) scale(0.9617,1)" font-size="78.17" font-weight="normal">T</text>
<text transform="translate(1736.74,1331.90) scale(1.0477,1)" font-size="48.04" font-weight="normal">min</text>
<text transform="translate(1733.52,1374.56) scale(1.0414,1)" font-size="50.40" font-weight="normal">j</text>
</svg>
</body></html>
